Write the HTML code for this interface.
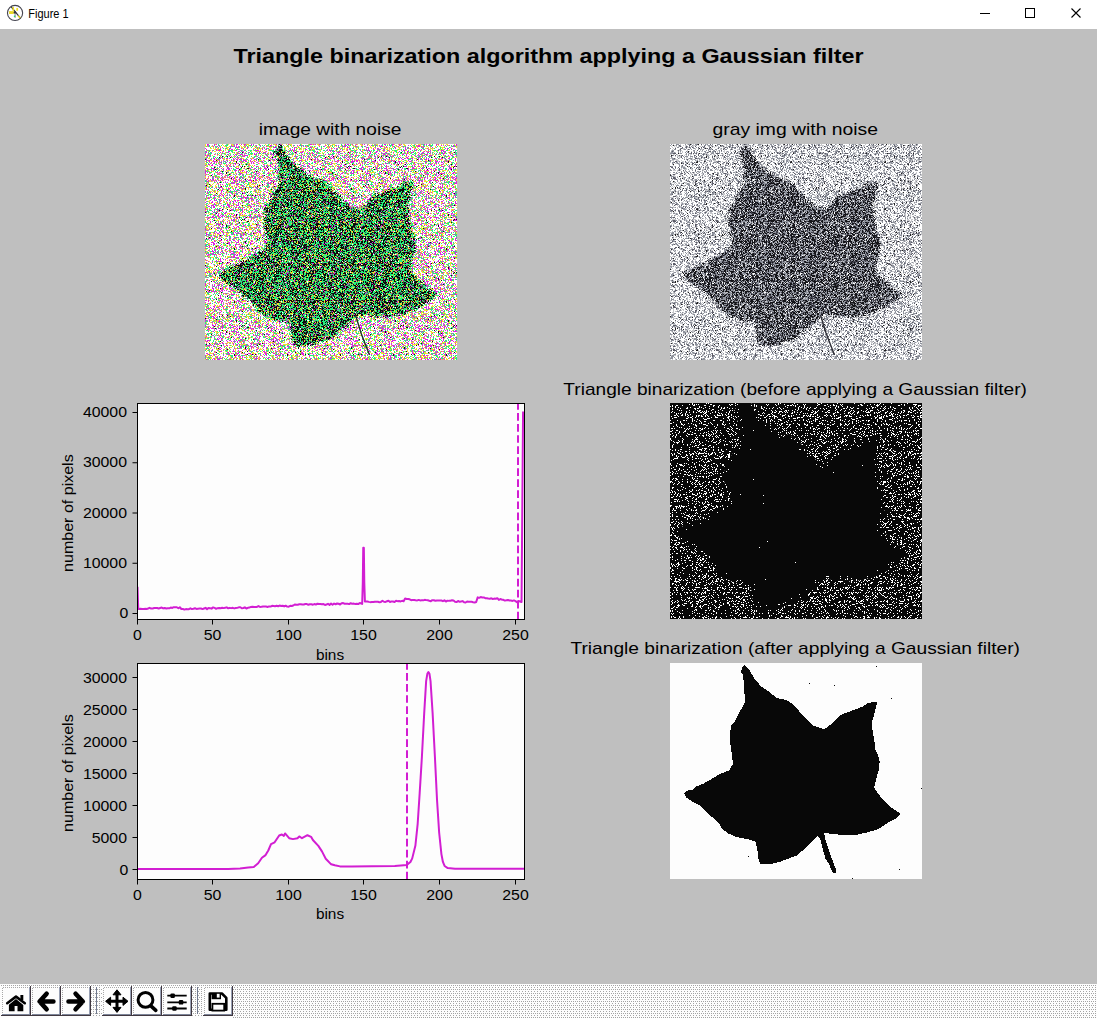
<!DOCTYPE html><html><head><meta charset="utf-8"><style>html,body{margin:0;padding:0;width:1097px;height:1018px;overflow:hidden;background:#bfbfbf}svg{position:absolute;left:0;top:0}text{font-family:"Liberation Sans",sans-serif}</style></head><body><svg width="1097" height="1018" viewBox="0 0 1097 1018"><defs><pattern id="p1b_0" patternUnits="userSpaceOnUse" width="37" height="37"><path fill="#e020e0" d="M2 0h2v1h-2zM9 0h1v1h-1zM11 0h1v1h-1zM29 0h1v1h-1zM31 0h2v1h-2zM34 0h1v1h-1zM36 0h1v1h-1zM2 1h1v1h-1zM9 1h1v1h-1zM14 1h1v1h-1zM18 1h1v1h-1zM20 1h1v1h-1zM22 1h1v1h-1zM26 1h1v1h-1zM28 1h2v1h-2zM3 2h1v1h-1zM8 2h1v1h-1zM12 2h1v1h-1zM24 2h1v1h-1zM26 2h4v1h-4zM31 2h1v1h-1zM33 2h1v1h-1zM5 3h1v1h-1zM13 3h1v1h-1zM15 3h1v1h-1zM17 3h1v1h-1zM22 3h1v1h-1zM31 3h3v1h-3zM0 4h1v1h-1zM5 4h1v1h-1zM15 4h1v1h-1zM18 4h1v1h-1zM20 4h1v1h-1zM24 4h2v1h-2zM36 4h1v1h-1zM1 5h1v1h-1zM11 5h1v1h-1zM13 5h1v1h-1zM15 5h1v1h-1zM20 5h1v1h-1zM24 5h1v1h-1zM26 5h2v1h-2zM31 5h1v1h-1zM33 5h2v1h-2zM3 6h1v1h-1zM7 6h1v1h-1zM11 6h1v1h-1zM13 6h4v1h-4zM26 6h1v1h-1zM30 6h2v1h-2zM35 6h1v1h-1zM1 7h1v1h-1zM9 7h1v1h-1zM14 7h1v1h-1zM17 7h2v1h-2zM23 7h2v1h-2zM34 7h1v1h-1zM36 7h1v1h-1zM0 8h2v1h-2zM3 8h1v1h-1zM6 8h1v1h-1zM15 8h1v1h-1zM17 8h1v1h-1zM21 8h3v1h-3zM28 8h1v1h-1zM32 8h2v1h-2zM3 9h1v1h-1zM12 9h1v1h-1zM14 9h1v1h-1zM16 9h2v1h-2zM25 9h1v1h-1zM29 9h1v1h-1zM31 9h1v1h-1zM33 9h2v1h-2zM0 10h1v1h-1zM9 10h1v1h-1zM12 10h2v1h-2zM16 10h1v1h-1zM23 10h1v1h-1zM28 10h1v1h-1zM30 10h2v1h-2zM35 10h2v1h-2zM0 11h1v1h-1zM2 11h4v1h-4zM16 11h1v1h-1zM21 11h1v1h-1zM24 11h2v1h-2zM29 11h1v1h-1zM31 11h1v1h-1zM33 11h2v1h-2zM1 12h2v1h-2zM15 12h1v1h-1zM18 12h1v1h-1zM22 12h1v1h-1zM26 12h1v1h-1zM28 12h1v1h-1zM30 12h1v1h-1zM32 12h1v1h-1zM35 12h1v1h-1zM10 13h1v1h-1zM16 13h2v1h-2zM22 13h1v1h-1zM27 13h1v1h-1zM29 13h1v1h-1zM32 13h1v1h-1zM36 13h1v1h-1zM1 14h1v1h-1zM8 14h2v1h-2zM11 14h1v1h-1zM14 14h2v1h-2zM17 14h2v1h-2zM21 14h2v1h-2zM24 14h1v1h-1zM28 14h1v1h-1zM30 14h1v1h-1zM33 14h1v1h-1zM36 14h1v1h-1zM1 15h1v1h-1zM5 15h1v1h-1zM9 15h1v1h-1zM12 15h2v1h-2zM18 15h1v1h-1zM28 15h1v1h-1zM31 15h2v1h-2zM34 15h3v1h-3zM1 16h4v1h-4zM6 16h1v1h-1zM8 16h1v1h-1zM14 16h1v1h-1zM18 16h1v1h-1zM21 16h2v1h-2zM26 16h1v1h-1zM28 16h1v1h-1zM32 16h1v1h-1zM36 16h1v1h-1zM0 17h2v1h-2zM3 17h2v1h-2zM8 17h3v1h-3zM12 17h1v1h-1zM16 17h1v1h-1zM19 17h2v1h-2zM22 17h1v1h-1zM35 17h2v1h-2zM6 18h1v1h-1zM9 18h1v1h-1zM11 18h1v1h-1zM14 18h2v1h-2zM21 18h1v1h-1zM24 18h1v1h-1zM35 18h2v1h-2zM5 19h1v1h-1zM9 19h1v1h-1zM11 19h1v1h-1zM16 19h1v1h-1zM24 19h1v1h-1zM29 19h2v1h-2zM32 19h2v1h-2zM36 19h1v1h-1zM1 20h1v1h-1zM3 20h2v1h-2zM7 20h1v1h-1zM14 20h2v1h-2zM21 20h1v1h-1zM25 20h1v1h-1zM28 20h1v1h-1zM30 20h1v1h-1zM0 21h1v1h-1zM6 21h2v1h-2zM12 21h1v1h-1zM22 21h1v1h-1zM24 21h1v1h-1zM28 21h1v1h-1zM33 21h1v1h-1zM9 22h1v1h-1zM14 22h3v1h-3zM21 22h2v1h-2zM24 22h2v1h-2zM28 22h2v1h-2zM33 22h1v1h-1zM35 22h1v1h-1zM9 23h2v1h-2zM22 23h2v1h-2zM30 23h1v1h-1zM33 23h1v1h-1zM1 24h2v1h-2zM6 24h3v1h-3zM12 24h1v1h-1zM16 24h1v1h-1zM18 24h1v1h-1zM22 24h3v1h-3zM26 24h1v1h-1zM28 24h1v1h-1zM31 24h3v1h-3zM36 24h1v1h-1zM3 25h2v1h-2zM8 25h2v1h-2zM11 25h1v1h-1zM14 25h1v1h-1zM18 25h1v1h-1zM21 25h1v1h-1zM23 25h2v1h-2zM34 25h1v1h-1zM0 26h2v1h-2zM6 26h1v1h-1zM8 26h2v1h-2zM18 26h1v1h-1zM24 26h1v1h-1zM30 26h2v1h-2zM33 26h2v1h-2zM36 26h1v1h-1zM0 27h1v1h-1zM4 27h1v1h-1zM12 27h1v1h-1zM15 27h1v1h-1zM20 27h1v1h-1zM30 27h1v1h-1zM35 27h1v1h-1zM0 28h1v1h-1zM2 28h1v1h-1zM4 28h1v1h-1zM11 28h2v1h-2zM14 28h1v1h-1zM17 28h1v1h-1zM22 28h1v1h-1zM26 28h2v1h-2zM30 28h1v1h-1zM34 28h2v1h-2zM0 29h1v1h-1zM4 29h1v1h-1zM9 29h1v1h-1zM13 29h4v1h-4zM25 29h2v1h-2zM28 29h1v1h-1zM31 29h1v1h-1zM35 29h2v1h-2zM0 30h2v1h-2zM7 30h1v1h-1zM9 30h1v1h-1zM12 30h3v1h-3zM17 30h1v1h-1zM24 30h1v1h-1zM31 30h1v1h-1zM35 30h1v1h-1zM0 31h1v1h-1zM9 31h1v1h-1zM11 31h1v1h-1zM16 31h1v1h-1zM20 31h2v1h-2zM34 31h1v1h-1zM3 32h1v1h-1zM7 32h1v1h-1zM10 32h1v1h-1zM13 32h1v1h-1zM17 32h1v1h-1zM19 32h2v1h-2zM24 32h2v1h-2zM28 32h1v1h-1zM0 33h1v1h-1zM7 33h2v1h-2zM10 33h1v1h-1zM13 33h1v1h-1zM16 33h2v1h-2zM20 33h1v1h-1zM22 33h1v1h-1zM24 33h1v1h-1zM26 33h2v1h-2zM29 33h1v1h-1zM31 33h2v1h-2zM35 33h1v1h-1zM0 34h1v1h-1zM3 34h1v1h-1zM8 34h1v1h-1zM12 34h2v1h-2zM15 34h1v1h-1zM17 34h2v1h-2zM25 34h1v1h-1zM28 34h3v1h-3zM34 34h1v1h-1zM2 35h1v1h-1zM5 35h1v1h-1zM7 35h2v1h-2zM13 35h1v1h-1zM16 35h2v1h-2zM19 35h1v1h-1zM21 35h1v1h-1zM26 35h3v1h-3zM31 35h1v1h-1zM34 35h1v1h-1zM1 36h1v1h-1zM3 36h2v1h-2zM6 36h6v1h-6zM13 36h3v1h-3zM17 36h1v1h-1zM23 36h1v1h-1zM25 36h1v1h-1zM28 36h3v1h-3zM32 36h1v1h-1zM34 36h2v1h-2z"/></pattern><pattern id="p1b_1" patternUnits="userSpaceOnUse" width="41" height="41"><path fill="#24f07c" d="M13 0h1v1h-1zM22 0h1v1h-1zM0 1h1v1h-1zM3 1h2v1h-2zM7 1h1v1h-1zM13 1h1v1h-1zM16 1h1v1h-1zM18 1h1v1h-1zM20 1h3v1h-3zM1 2h1v1h-1zM4 2h1v1h-1zM6 2h1v1h-1zM10 2h1v1h-1zM14 2h1v1h-1zM21 2h1v1h-1zM25 2h1v1h-1zM27 2h1v1h-1zM34 2h1v1h-1zM36 2h1v1h-1zM5 3h1v1h-1zM11 3h1v1h-1zM25 3h1v1h-1zM30 3h1v1h-1zM34 3h1v1h-1zM39 3h1v1h-1zM12 4h2v1h-2zM18 4h1v1h-1zM21 4h2v1h-2zM24 4h1v1h-1zM30 4h1v1h-1zM38 4h1v1h-1zM9 5h1v1h-1zM14 5h1v1h-1zM22 5h1v1h-1zM29 5h1v1h-1zM31 5h2v1h-2zM34 5h1v1h-1zM2 6h1v1h-1zM4 6h2v1h-2zM8 6h1v1h-1zM18 6h1v1h-1zM23 6h5v1h-5zM36 6h2v1h-2zM39 6h1v1h-1zM0 7h1v1h-1zM4 7h1v1h-1zM10 7h1v1h-1zM26 7h2v1h-2zM33 7h1v1h-1zM3 8h1v1h-1zM5 8h1v1h-1zM22 8h1v1h-1zM27 8h1v1h-1zM29 8h1v1h-1zM31 8h1v1h-1zM35 8h1v1h-1zM40 8h1v1h-1zM0 9h1v1h-1zM4 9h3v1h-3zM12 9h1v1h-1zM14 9h1v1h-1zM17 9h1v1h-1zM19 9h1v1h-1zM24 9h1v1h-1zM31 9h2v1h-2zM36 9h1v1h-1zM2 10h2v1h-2zM5 10h1v1h-1zM10 10h1v1h-1zM20 10h1v1h-1zM22 10h1v1h-1zM25 10h1v1h-1zM28 10h1v1h-1zM12 11h1v1h-1zM14 11h1v1h-1zM16 11h1v1h-1zM25 11h1v1h-1zM31 11h1v1h-1zM33 11h1v1h-1zM35 11h1v1h-1zM1 12h1v1h-1zM5 12h1v1h-1zM8 12h2v1h-2zM18 12h1v1h-1zM21 12h1v1h-1zM24 12h1v1h-1zM28 12h1v1h-1zM30 12h1v1h-1zM36 12h2v1h-2zM1 13h2v1h-2zM8 13h1v1h-1zM12 13h1v1h-1zM16 13h1v1h-1zM19 13h1v1h-1zM22 13h1v1h-1zM27 13h1v1h-1zM29 13h1v1h-1zM33 13h2v1h-2zM0 14h1v1h-1zM6 14h1v1h-1zM11 14h1v1h-1zM13 14h1v1h-1zM35 14h1v1h-1zM0 15h1v1h-1zM10 15h1v1h-1zM14 15h1v1h-1zM22 15h1v1h-1zM26 15h1v1h-1zM39 15h2v1h-2zM2 16h1v1h-1zM12 16h1v1h-1zM27 16h1v1h-1zM36 16h1v1h-1zM14 17h1v1h-1zM18 17h2v1h-2zM22 17h1v1h-1zM31 17h1v1h-1zM34 17h1v1h-1zM38 17h1v1h-1zM1 18h2v1h-2zM16 18h1v1h-1zM20 18h1v1h-1zM25 18h1v1h-1zM37 18h1v1h-1zM0 19h2v1h-2zM3 19h1v1h-1zM8 19h1v1h-1zM13 19h1v1h-1zM18 19h3v1h-3zM24 19h2v1h-2zM28 19h1v1h-1zM1 20h1v1h-1zM10 20h2v1h-2zM36 20h1v1h-1zM38 20h1v1h-1zM40 20h1v1h-1zM15 21h1v1h-1zM21 21h1v1h-1zM34 21h1v1h-1zM37 21h1v1h-1zM1 22h2v1h-2zM5 22h1v1h-1zM16 22h1v1h-1zM18 22h1v1h-1zM22 22h1v1h-1zM26 22h1v1h-1zM28 22h1v1h-1zM39 22h1v1h-1zM6 23h1v1h-1zM10 23h1v1h-1zM12 23h1v1h-1zM14 23h1v1h-1zM30 23h1v1h-1zM33 23h1v1h-1zM9 24h1v1h-1zM13 24h1v1h-1zM24 24h1v1h-1zM28 24h1v1h-1zM35 24h2v1h-2zM0 25h1v1h-1zM2 25h1v1h-1zM4 25h3v1h-3zM12 25h1v1h-1zM17 25h1v1h-1zM28 25h3v1h-3zM35 25h2v1h-2zM2 26h2v1h-2zM9 26h1v1h-1zM11 26h1v1h-1zM13 26h1v1h-1zM21 26h1v1h-1zM29 26h1v1h-1zM1 27h1v1h-1zM3 27h1v1h-1zM8 27h1v1h-1zM10 27h1v1h-1zM12 27h1v1h-1zM16 27h1v1h-1zM18 27h1v1h-1zM33 27h1v1h-1zM39 27h1v1h-1zM5 28h2v1h-2zM17 28h1v1h-1zM23 28h1v1h-1zM26 28h3v1h-3zM36 28h1v1h-1zM5 29h1v1h-1zM9 29h1v1h-1zM17 29h2v1h-2zM34 29h1v1h-1zM0 30h1v1h-1zM2 30h2v1h-2zM9 30h1v1h-1zM20 30h1v1h-1zM23 30h1v1h-1zM25 30h1v1h-1zM34 30h1v1h-1zM37 30h1v1h-1zM5 31h1v1h-1zM10 31h2v1h-2zM22 31h2v1h-2zM25 31h1v1h-1zM30 31h1v1h-1zM38 31h1v1h-1zM40 31h1v1h-1zM5 32h1v1h-1zM8 32h1v1h-1zM11 32h1v1h-1zM13 32h1v1h-1zM17 32h1v1h-1zM31 32h1v1h-1zM35 32h2v1h-2zM38 32h1v1h-1zM40 32h1v1h-1zM8 33h1v1h-1zM13 33h2v1h-2zM29 33h1v1h-1zM34 33h1v1h-1zM36 33h1v1h-1zM7 34h1v1h-1zM35 34h1v1h-1zM38 34h1v1h-1zM10 35h1v1h-1zM12 35h1v1h-1zM27 35h1v1h-1zM30 35h1v1h-1zM33 35h1v1h-1zM0 36h1v1h-1zM7 36h1v1h-1zM11 36h1v1h-1zM18 36h1v1h-1zM31 36h1v1h-1zM0 37h2v1h-2zM15 37h2v1h-2zM25 37h1v1h-1zM30 37h1v1h-1zM34 37h1v1h-1zM38 37h2v1h-2zM2 38h2v1h-2zM9 38h1v1h-1zM12 38h1v1h-1zM16 38h1v1h-1zM27 38h1v1h-1zM34 38h1v1h-1zM36 38h3v1h-3zM2 39h1v1h-1zM21 39h1v1h-1zM25 39h1v1h-1zM32 39h1v1h-1zM38 39h1v1h-1zM1 40h3v1h-3zM11 40h1v1h-1zM21 40h2v1h-2zM24 40h1v1h-1zM34 40h3v1h-3zM39 40h1v1h-1z"/></pattern><pattern id="p1b_2" patternUnits="userSpaceOnUse" width="43" height="43"><path fill="#f0dc30" d="M0 0h1v1h-1zM10 0h1v1h-1zM17 0h1v1h-1zM21 0h1v1h-1zM23 0h1v1h-1zM26 0h2v1h-2zM34 0h1v1h-1zM38 0h1v1h-1zM41 0h2v1h-2zM0 1h1v1h-1zM18 1h1v1h-1zM27 1h2v1h-2zM35 1h1v1h-1zM40 1h1v1h-1zM0 2h1v1h-1zM2 2h1v1h-1zM6 2h2v1h-2zM15 2h1v1h-1zM19 2h2v1h-2zM24 2h1v1h-1zM36 2h1v1h-1zM38 2h2v1h-2zM8 3h1v1h-1zM10 3h1v1h-1zM15 3h1v1h-1zM21 3h3v1h-3zM36 3h2v1h-2zM40 3h1v1h-1zM5 4h2v1h-2zM8 4h1v1h-1zM10 4h1v1h-1zM12 4h2v1h-2zM22 4h1v1h-1zM32 4h1v1h-1zM37 4h1v1h-1zM41 4h1v1h-1zM9 5h2v1h-2zM12 5h1v1h-1zM20 5h1v1h-1zM22 5h2v1h-2zM29 5h1v1h-1zM40 5h1v1h-1zM1 6h1v1h-1zM5 6h1v1h-1zM12 6h1v1h-1zM16 6h1v1h-1zM20 6h1v1h-1zM28 6h2v1h-2zM3 7h1v1h-1zM7 7h1v1h-1zM9 7h2v1h-2zM14 7h1v1h-1zM17 7h1v1h-1zM37 7h1v1h-1zM13 8h1v1h-1zM20 8h1v1h-1zM28 8h1v1h-1zM31 8h1v1h-1zM33 8h1v1h-1zM40 8h1v1h-1zM16 9h1v1h-1zM20 9h1v1h-1zM25 9h1v1h-1zM29 9h1v1h-1zM31 9h1v1h-1zM39 9h1v1h-1zM2 10h1v1h-1zM4 10h1v1h-1zM10 10h1v1h-1zM13 10h1v1h-1zM19 10h1v1h-1zM32 10h1v1h-1zM1 11h1v1h-1zM7 11h1v1h-1zM12 11h1v1h-1zM15 11h1v1h-1zM23 11h1v1h-1zM38 11h1v1h-1zM1 12h1v1h-1zM20 12h1v1h-1zM22 12h1v1h-1zM28 12h2v1h-2zM35 12h1v1h-1zM0 13h1v1h-1zM4 13h1v1h-1zM15 13h1v1h-1zM26 13h1v1h-1zM34 13h1v1h-1zM36 13h1v1h-1zM3 14h2v1h-2zM18 14h2v1h-2zM32 14h1v1h-1zM37 14h2v1h-2zM10 15h2v1h-2zM18 15h1v1h-1zM21 15h2v1h-2zM39 15h1v1h-1zM5 16h2v1h-2zM11 16h3v1h-3zM16 16h1v1h-1zM21 16h1v1h-1zM24 16h1v1h-1zM27 16h1v1h-1zM29 16h1v1h-1zM41 16h1v1h-1zM0 17h1v1h-1zM3 17h1v1h-1zM7 17h1v1h-1zM11 17h1v1h-1zM25 17h1v1h-1zM29 17h2v1h-2zM35 17h1v1h-1zM13 18h1v1h-1zM27 18h1v1h-1zM36 18h1v1h-1zM38 18h2v1h-2zM0 19h2v1h-2zM6 19h1v1h-1zM11 19h1v1h-1zM14 19h1v1h-1zM25 19h2v1h-2zM31 19h1v1h-1zM40 19h1v1h-1zM42 19h1v1h-1zM0 20h1v1h-1zM16 20h1v1h-1zM19 20h1v1h-1zM23 20h1v1h-1zM28 20h1v1h-1zM36 20h2v1h-2zM1 21h2v1h-2zM4 21h1v1h-1zM20 21h2v1h-2zM25 21h1v1h-1zM41 21h1v1h-1zM1 22h1v1h-1zM5 22h1v1h-1zM10 22h1v1h-1zM24 22h1v1h-1zM31 22h3v1h-3zM40 22h1v1h-1zM0 23h1v1h-1zM17 23h1v1h-1zM31 23h1v1h-1zM33 23h1v1h-1zM39 23h1v1h-1zM11 24h1v1h-1zM13 24h1v1h-1zM38 24h1v1h-1zM41 24h1v1h-1zM0 25h1v1h-1zM4 25h1v1h-1zM36 25h1v1h-1zM1 26h1v1h-1zM3 26h1v1h-1zM11 26h1v1h-1zM14 26h1v1h-1zM16 26h1v1h-1zM22 26h4v1h-4zM27 26h1v1h-1zM34 26h3v1h-3zM4 27h1v1h-1zM6 27h3v1h-3zM20 27h1v1h-1zM22 27h1v1h-1zM27 27h1v1h-1zM39 27h1v1h-1zM10 28h1v1h-1zM21 28h1v1h-1zM30 28h1v1h-1zM35 28h6v1h-6zM5 29h1v1h-1zM12 29h1v1h-1zM14 29h1v1h-1zM24 29h1v1h-1zM26 29h1v1h-1zM28 29h1v1h-1zM30 29h1v1h-1zM37 29h1v1h-1zM0 30h1v1h-1zM2 30h1v1h-1zM13 30h1v1h-1zM20 30h1v1h-1zM22 30h1v1h-1zM29 30h1v1h-1zM33 30h1v1h-1zM42 30h1v1h-1zM4 31h1v1h-1zM9 31h1v1h-1zM25 31h2v1h-2zM34 31h1v1h-1zM0 32h1v1h-1zM5 32h1v1h-1zM9 32h1v1h-1zM12 32h1v1h-1zM14 32h1v1h-1zM20 32h1v1h-1zM22 32h1v1h-1zM30 32h2v1h-2zM39 32h1v1h-1zM0 33h1v1h-1zM3 33h1v1h-1zM11 33h3v1h-3zM18 33h2v1h-2zM23 33h1v1h-1zM30 33h1v1h-1zM38 33h2v1h-2zM2 34h1v1h-1zM16 34h1v1h-1zM24 34h1v1h-1zM30 34h1v1h-1zM41 34h1v1h-1zM1 35h1v1h-1zM10 35h1v1h-1zM13 35h1v1h-1zM20 35h1v1h-1zM22 35h1v1h-1zM27 35h1v1h-1zM30 35h1v1h-1zM33 35h1v1h-1zM36 35h1v1h-1zM40 35h1v1h-1zM4 36h2v1h-2zM9 36h1v1h-1zM14 36h1v1h-1zM18 36h1v1h-1zM25 36h1v1h-1zM31 36h1v1h-1zM36 36h1v1h-1zM4 37h4v1h-4zM16 37h1v1h-1zM20 37h1v1h-1zM27 37h1v1h-1zM37 37h2v1h-2zM2 38h1v1h-1zM10 38h1v1h-1zM30 38h2v1h-2zM1 39h2v1h-2zM8 39h1v1h-1zM13 39h1v1h-1zM23 39h2v1h-2zM40 39h2v1h-2zM1 40h1v1h-1zM3 40h3v1h-3zM7 40h1v1h-1zM11 40h1v1h-1zM23 40h1v1h-1zM25 40h1v1h-1zM34 40h1v1h-1zM1 41h2v1h-2zM6 41h1v1h-1zM10 41h1v1h-1zM15 41h1v1h-1zM18 41h1v1h-1zM25 41h1v1h-1zM29 41h1v1h-1zM31 41h1v1h-1zM35 41h1v1h-1zM41 41h2v1h-2zM2 42h2v1h-2zM5 42h2v1h-2zM10 42h2v1h-2zM24 42h1v1h-1zM26 42h1v1h-1zM29 42h1v1h-1zM31 42h1v1h-1zM34 42h1v1h-1zM37 42h1v1h-1z"/></pattern><pattern id="p1b_3" patternUnits="userSpaceOnUse" width="47" height="47"><path fill="#a0a0a8" d="M21 0h1v1h-1zM28 0h2v1h-2zM3 1h1v1h-1zM7 1h1v1h-1zM31 1h1v1h-1zM11 2h1v1h-1zM10 3h1v1h-1zM43 3h1v1h-1zM38 4h1v1h-1zM13 5h1v1h-1zM37 7h1v1h-1zM10 9h1v1h-1zM18 9h1v1h-1zM37 9h1v1h-1zM39 9h1v1h-1zM43 9h1v1h-1zM39 10h1v1h-1zM4 11h1v1h-1zM24 11h2v1h-2zM4 12h1v1h-1zM37 12h1v1h-1zM1 13h1v1h-1zM31 13h1v1h-1zM45 14h1v1h-1zM6 15h1v1h-1zM19 15h1v1h-1zM29 15h1v1h-1zM41 15h1v1h-1zM21 16h1v1h-1zM35 16h1v1h-1zM18 17h1v1h-1zM25 17h1v1h-1zM28 17h1v1h-1zM4 18h1v1h-1zM18 18h1v1h-1zM24 19h1v1h-1zM27 19h1v1h-1zM32 19h1v1h-1zM42 19h1v1h-1zM44 23h1v1h-1zM2 25h1v1h-1zM14 25h1v1h-1zM40 25h1v1h-1zM8 26h1v1h-1zM21 26h1v1h-1zM25 26h1v1h-1zM45 26h1v1h-1zM2 27h1v1h-1zM23 27h1v1h-1zM33 28h1v1h-1zM43 28h1v1h-1zM4 29h1v1h-1zM17 29h1v1h-1zM31 29h1v1h-1zM45 29h1v1h-1zM28 30h2v1h-2zM33 30h1v1h-1zM22 32h1v1h-1zM32 32h1v1h-1zM12 33h1v1h-1zM38 33h1v1h-1zM44 33h1v1h-1zM13 34h1v1h-1zM17 34h1v1h-1zM25 34h1v1h-1zM40 34h1v1h-1zM23 35h1v1h-1zM36 35h1v1h-1zM39 35h1v1h-1zM7 36h1v1h-1zM11 36h1v1h-1zM6 37h1v1h-1zM20 37h1v1h-1zM37 37h1v1h-1zM1 38h1v1h-1zM15 38h1v1h-1zM37 38h1v1h-1zM44 38h1v1h-1zM0 39h2v1h-2zM3 39h1v1h-1zM29 39h1v1h-1zM32 41h1v1h-1zM38 41h1v1h-1zM37 42h1v1h-1zM39 42h1v1h-1zM46 43h1v1h-1zM9 44h1v1h-1zM21 44h1v1h-1zM37 44h1v1h-1zM3 45h1v1h-1zM7 46h1v1h-1z"/></pattern><pattern id="p1b_4" patternUnits="userSpaceOnUse" width="53" height="53"><path fill="#101010" d="M37 8h1v1h-1zM17 12h1v1h-1zM22 12h1v1h-1zM14 13h1v1h-1zM25 13h1v1h-1zM0 15h1v1h-1zM11 16h1v1h-1zM31 17h1v1h-1zM31 18h1v1h-1zM34 20h1v1h-1zM41 20h1v1h-1zM37 22h1v1h-1zM39 22h1v1h-1zM9 23h1v1h-1zM36 23h1v1h-1zM42 24h2v1h-2zM10 25h1v1h-1zM34 25h1v1h-1zM17 27h1v1h-1zM51 27h1v1h-1zM21 28h1v1h-1zM21 29h1v1h-1zM24 30h1v1h-1zM6 31h1v1h-1zM26 34h1v1h-1zM40 35h1v1h-1zM48 36h1v1h-1zM15 38h1v1h-1zM4 40h1v1h-1zM1 41h1v1h-1zM16 42h1v1h-1zM52 42h1v1h-1zM40 44h1v1h-1zM13 45h1v1h-1zM40 45h1v1h-1zM22 46h1v1h-1zM42 48h1v1h-1zM11 49h1v1h-1zM37 49h1v1h-1zM29 51h1v1h-1zM42 51h1v1h-1zM47 51h1v1h-1zM50 51h1v1h-1zM29 52h1v1h-1z"/></pattern><pattern id="p1l_0" patternUnits="userSpaceOnUse" width="37" height="37"><path fill="#24f07c" d="M2 0h2v1h-2zM7 0h6v1h-6zM15 0h3v1h-3zM20 0h2v1h-2zM25 0h1v1h-1zM27 0h1v1h-1zM29 0h2v1h-2zM36 0h1v1h-1zM0 1h1v1h-1zM4 1h1v1h-1zM7 1h2v1h-2zM10 1h1v1h-1zM13 1h2v1h-2zM19 1h2v1h-2zM22 1h2v1h-2zM28 1h2v1h-2zM31 1h1v1h-1zM34 1h3v1h-3zM0 2h2v1h-2zM3 2h4v1h-4zM8 2h2v1h-2zM12 2h1v1h-1zM15 2h1v1h-1zM18 2h1v1h-1zM21 2h1v1h-1zM25 2h2v1h-2zM29 2h1v1h-1zM31 2h3v1h-3zM3 3h1v1h-1zM7 3h1v1h-1zM9 3h4v1h-4zM14 3h1v1h-1zM18 3h5v1h-5zM24 3h1v1h-1zM29 3h2v1h-2zM34 3h2v1h-2zM0 4h1v1h-1zM2 4h1v1h-1zM4 4h2v1h-2zM7 4h1v1h-1zM9 4h4v1h-4zM14 4h1v1h-1zM16 4h2v1h-2zM19 4h4v1h-4zM24 4h1v1h-1zM28 4h2v1h-2zM32 4h3v1h-3zM3 5h1v1h-1zM5 5h1v1h-1zM8 5h4v1h-4zM13 5h2v1h-2zM17 5h1v1h-1zM22 5h4v1h-4zM28 5h1v1h-1zM30 5h1v1h-1zM32 5h3v1h-3zM36 5h1v1h-1zM5 6h2v1h-2zM8 6h5v1h-5zM14 6h2v1h-2zM17 6h2v1h-2zM21 6h1v1h-1zM24 6h1v1h-1zM26 6h1v1h-1zM30 6h1v1h-1zM32 6h4v1h-4zM2 7h10v1h-10zM14 7h3v1h-3zM19 7h4v1h-4zM28 7h1v1h-1zM35 7h2v1h-2zM2 8h1v1h-1zM6 8h2v1h-2zM16 8h1v1h-1zM22 8h1v1h-1zM27 8h1v1h-1zM30 8h1v1h-1zM32 8h3v1h-3zM3 9h1v1h-1zM14 9h6v1h-6zM21 9h1v1h-1zM23 9h1v1h-1zM25 9h6v1h-6zM33 9h1v1h-1zM1 10h1v1h-1zM3 10h1v1h-1zM5 10h2v1h-2zM11 10h1v1h-1zM14 10h1v1h-1zM16 10h1v1h-1zM19 10h1v1h-1zM21 10h1v1h-1zM27 10h1v1h-1zM30 10h1v1h-1zM0 11h2v1h-2zM7 11h5v1h-5zM13 11h3v1h-3zM17 11h1v1h-1zM21 11h1v1h-1zM23 11h1v1h-1zM27 11h2v1h-2zM31 11h2v1h-2zM0 12h1v1h-1zM2 12h3v1h-3zM6 12h1v1h-1zM8 12h3v1h-3zM13 12h1v1h-1zM19 12h1v1h-1zM21 12h3v1h-3zM25 12h1v1h-1zM28 12h1v1h-1zM32 12h1v1h-1zM34 12h2v1h-2zM1 13h1v1h-1zM3 13h4v1h-4zM8 13h3v1h-3zM12 13h3v1h-3zM18 13h1v1h-1zM20 13h1v1h-1zM22 13h3v1h-3zM27 13h2v1h-2zM30 13h1v1h-1zM33 13h1v1h-1zM36 13h1v1h-1zM3 14h1v1h-1zM8 14h1v1h-1zM10 14h6v1h-6zM17 14h2v1h-2zM20 14h1v1h-1zM23 14h1v1h-1zM26 14h2v1h-2zM31 14h3v1h-3zM35 14h1v1h-1zM0 15h1v1h-1zM2 15h4v1h-4zM7 15h1v1h-1zM11 15h3v1h-3zM16 15h1v1h-1zM19 15h2v1h-2zM22 15h1v1h-1zM25 15h3v1h-3zM30 15h2v1h-2zM35 15h1v1h-1zM2 16h1v1h-1zM5 16h1v1h-1zM8 16h2v1h-2zM11 16h1v1h-1zM14 16h3v1h-3zM21 16h3v1h-3zM27 16h4v1h-4zM32 16h1v1h-1zM0 17h5v1h-5zM7 17h10v1h-10zM18 17h2v1h-2zM21 17h2v1h-2zM25 17h2v1h-2zM29 17h1v1h-1zM31 17h1v1h-1zM33 17h1v1h-1zM35 17h1v1h-1zM0 18h1v1h-1zM4 18h3v1h-3zM11 18h1v1h-1zM13 18h1v1h-1zM21 18h3v1h-3zM25 18h2v1h-2zM32 18h1v1h-1zM0 19h4v1h-4zM5 19h2v1h-2zM10 19h1v1h-1zM13 19h2v1h-2zM16 19h1v1h-1zM20 19h1v1h-1zM22 19h2v1h-2zM25 19h2v1h-2zM28 19h1v1h-1zM30 19h2v1h-2zM34 19h3v1h-3zM0 20h2v1h-2zM3 20h3v1h-3zM7 20h1v1h-1zM10 20h1v1h-1zM13 20h1v1h-1zM17 20h1v1h-1zM19 20h2v1h-2zM24 20h2v1h-2zM30 20h2v1h-2zM33 20h1v1h-1zM0 21h1v1h-1zM3 21h2v1h-2zM9 21h2v1h-2zM13 21h2v1h-2zM16 21h3v1h-3zM21 21h1v1h-1zM26 21h5v1h-5zM0 22h2v1h-2zM3 22h1v1h-1zM5 22h2v1h-2zM10 22h2v1h-2zM13 22h1v1h-1zM18 22h3v1h-3zM22 22h1v1h-1zM24 22h3v1h-3zM29 22h1v1h-1zM32 22h1v1h-1zM34 22h3v1h-3zM2 23h1v1h-1zM7 23h1v1h-1zM10 23h1v1h-1zM13 23h1v1h-1zM15 23h2v1h-2zM22 23h1v1h-1zM24 23h6v1h-6zM31 23h1v1h-1zM35 23h1v1h-1zM0 24h3v1h-3zM5 24h3v1h-3zM10 24h1v1h-1zM12 24h2v1h-2zM15 24h1v1h-1zM21 24h3v1h-3zM25 24h2v1h-2zM28 24h2v1h-2zM31 24h1v1h-1zM35 24h1v1h-1zM0 25h4v1h-4zM6 25h1v1h-1zM9 25h5v1h-5zM17 25h2v1h-2zM22 25h1v1h-1zM25 25h4v1h-4zM33 25h3v1h-3zM0 26h1v1h-1zM3 26h1v1h-1zM6 26h3v1h-3zM11 26h1v1h-1zM13 26h3v1h-3zM18 26h2v1h-2zM21 26h1v1h-1zM24 26h1v1h-1zM28 26h2v1h-2zM31 26h1v1h-1zM33 26h4v1h-4zM1 27h7v1h-7zM9 27h1v1h-1zM11 27h1v1h-1zM16 27h2v1h-2zM21 27h1v1h-1zM23 27h1v1h-1zM27 27h3v1h-3zM36 27h1v1h-1zM0 28h3v1h-3zM4 28h1v1h-1zM7 28h1v1h-1zM9 28h4v1h-4zM15 28h1v1h-1zM17 28h3v1h-3zM23 28h2v1h-2zM26 28h1v1h-1zM30 28h1v1h-1zM33 28h2v1h-2zM36 28h1v1h-1zM1 29h2v1h-2zM4 29h1v1h-1zM6 29h4v1h-4zM11 29h1v1h-1zM16 29h2v1h-2zM20 29h1v1h-1zM22 29h2v1h-2zM28 29h1v1h-1zM31 29h2v1h-2zM35 29h2v1h-2zM3 30h1v1h-1zM5 30h1v1h-1zM7 30h2v1h-2zM10 30h1v1h-1zM12 30h2v1h-2zM16 30h2v1h-2zM19 30h1v1h-1zM21 30h2v1h-2zM28 30h1v1h-1zM30 30h2v1h-2zM33 30h2v1h-2zM36 30h1v1h-1zM0 31h2v1h-2zM4 31h1v1h-1zM7 31h6v1h-6zM14 31h4v1h-4zM19 31h1v1h-1zM21 31h3v1h-3zM25 31h2v1h-2zM32 31h2v1h-2zM35 31h2v1h-2zM0 32h2v1h-2zM3 32h3v1h-3zM7 32h2v1h-2zM10 32h1v1h-1zM13 32h1v1h-1zM18 32h2v1h-2zM22 32h2v1h-2zM27 32h3v1h-3zM33 32h3v1h-3zM0 33h1v1h-1zM4 33h4v1h-4zM9 33h1v1h-1zM11 33h1v1h-1zM13 33h1v1h-1zM15 33h2v1h-2zM18 33h2v1h-2zM24 33h2v1h-2zM29 33h1v1h-1zM31 33h3v1h-3zM35 33h2v1h-2zM1 34h2v1h-2zM4 34h1v1h-1zM8 34h1v1h-1zM11 34h1v1h-1zM19 34h1v1h-1zM22 34h2v1h-2zM25 34h1v1h-1zM27 34h2v1h-2zM30 34h2v1h-2zM34 34h1v1h-1zM36 34h1v1h-1zM1 35h1v1h-1zM3 35h1v1h-1zM5 35h2v1h-2zM10 35h1v1h-1zM12 35h1v1h-1zM15 35h2v1h-2zM22 35h5v1h-5zM29 35h7v1h-7zM0 36h1v1h-1zM4 36h3v1h-3zM8 36h3v1h-3zM13 36h1v1h-1zM15 36h1v1h-1zM17 36h1v1h-1zM20 36h2v1h-2zM24 36h1v1h-1zM27 36h3v1h-3zM32 36h2v1h-2zM36 36h1v1h-1z"/></pattern><pattern id="p1l_1" patternUnits="userSpaceOnUse" width="41" height="41"><path fill="#f0dc30" d="M13 0h1v1h-1zM16 0h1v1h-1zM21 0h1v1h-1zM29 0h1v1h-1zM31 0h1v1h-1zM5 1h1v1h-1zM12 1h1v1h-1zM14 1h1v1h-1zM22 1h1v1h-1zM27 1h1v1h-1zM31 1h1v1h-1zM33 1h1v1h-1zM37 1h1v1h-1zM1 2h1v1h-1zM6 2h1v1h-1zM17 2h1v1h-1zM25 2h1v1h-1zM29 2h1v1h-1zM37 2h2v1h-2zM1 3h1v1h-1zM4 3h1v1h-1zM15 3h1v1h-1zM21 3h2v1h-2zM25 3h1v1h-1zM27 3h1v1h-1zM40 3h1v1h-1zM5 4h1v1h-1zM18 4h1v1h-1zM22 4h1v1h-1zM27 4h1v1h-1zM40 4h1v1h-1zM3 5h3v1h-3zM15 5h1v1h-1zM18 5h1v1h-1zM20 5h1v1h-1zM23 5h2v1h-2zM27 5h1v1h-1zM29 5h1v1h-1zM39 5h1v1h-1zM0 6h2v1h-2zM4 6h1v1h-1zM9 6h1v1h-1zM11 6h1v1h-1zM24 6h1v1h-1zM28 6h1v1h-1zM37 6h1v1h-1zM13 7h1v1h-1zM15 7h1v1h-1zM35 7h1v1h-1zM9 8h2v1h-2zM20 8h1v1h-1zM23 8h1v1h-1zM25 8h1v1h-1zM33 8h1v1h-1zM35 8h1v1h-1zM1 9h1v1h-1zM4 9h1v1h-1zM14 9h1v1h-1zM20 9h1v1h-1zM36 9h1v1h-1zM39 9h1v1h-1zM7 10h1v1h-1zM11 10h1v1h-1zM15 10h1v1h-1zM26 10h1v1h-1zM1 11h1v1h-1zM4 11h2v1h-2zM18 11h1v1h-1zM26 11h2v1h-2zM29 11h1v1h-1zM38 11h1v1h-1zM2 12h1v1h-1zM32 12h1v1h-1zM0 13h1v1h-1zM2 13h1v1h-1zM6 13h2v1h-2zM9 13h1v1h-1zM12 13h1v1h-1zM21 13h1v1h-1zM26 13h1v1h-1zM32 13h1v1h-1zM3 14h1v1h-1zM11 14h1v1h-1zM19 14h1v1h-1zM21 14h3v1h-3zM28 14h1v1h-1zM30 14h1v1h-1zM33 14h2v1h-2zM7 15h1v1h-1zM10 15h1v1h-1zM18 15h1v1h-1zM20 15h1v1h-1zM25 15h1v1h-1zM40 15h1v1h-1zM8 16h1v1h-1zM10 16h1v1h-1zM20 16h1v1h-1zM9 17h2v1h-2zM16 17h1v1h-1zM22 17h1v1h-1zM24 17h1v1h-1zM6 18h1v1h-1zM20 18h1v1h-1zM28 18h1v1h-1zM37 18h1v1h-1zM33 19h1v1h-1zM38 19h1v1h-1zM6 20h2v1h-2zM24 20h2v1h-2zM8 21h1v1h-1zM21 21h1v1h-1zM23 21h1v1h-1zM35 21h1v1h-1zM39 21h1v1h-1zM3 22h1v1h-1zM11 22h2v1h-2zM16 22h1v1h-1zM21 22h2v1h-2zM26 22h2v1h-2zM29 22h1v1h-1zM37 22h1v1h-1zM39 22h2v1h-2zM0 23h1v1h-1zM10 23h1v1h-1zM13 23h1v1h-1zM15 23h1v1h-1zM32 23h2v1h-2zM40 23h1v1h-1zM6 24h1v1h-1zM13 24h1v1h-1zM27 24h1v1h-1zM37 24h1v1h-1zM22 25h1v1h-1zM27 25h1v1h-1zM33 25h1v1h-1zM35 25h1v1h-1zM0 26h1v1h-1zM17 26h1v1h-1zM22 26h1v1h-1zM1 27h1v1h-1zM19 27h2v1h-2zM28 27h1v1h-1zM0 28h1v1h-1zM9 28h1v1h-1zM12 28h1v1h-1zM14 28h1v1h-1zM20 28h2v1h-2zM25 28h1v1h-1zM27 28h1v1h-1zM30 28h1v1h-1zM36 28h1v1h-1zM39 28h1v1h-1zM17 29h1v1h-1zM24 29h1v1h-1zM27 29h2v1h-2zM35 29h1v1h-1zM5 30h1v1h-1zM7 30h1v1h-1zM15 30h1v1h-1zM19 30h1v1h-1zM31 30h1v1h-1zM33 30h1v1h-1zM38 30h1v1h-1zM8 31h1v1h-1zM24 31h1v1h-1zM27 31h1v1h-1zM34 31h1v1h-1zM4 32h1v1h-1zM8 32h1v1h-1zM17 32h2v1h-2zM22 32h1v1h-1zM24 32h1v1h-1zM29 32h2v1h-2zM39 32h2v1h-2zM5 33h1v1h-1zM14 33h1v1h-1zM17 33h1v1h-1zM37 33h1v1h-1zM1 34h1v1h-1zM3 34h1v1h-1zM9 34h1v1h-1zM29 34h1v1h-1zM33 34h2v1h-2zM37 34h1v1h-1zM40 34h1v1h-1zM4 35h1v1h-1zM6 35h1v1h-1zM29 35h1v1h-1zM35 35h1v1h-1zM37 35h1v1h-1zM39 35h1v1h-1zM12 36h1v1h-1zM15 36h1v1h-1zM19 36h1v1h-1zM31 36h2v1h-2zM34 36h1v1h-1zM8 37h2v1h-2zM15 37h3v1h-3zM20 37h1v1h-1zM26 37h1v1h-1zM28 37h2v1h-2zM31 37h2v1h-2zM40 37h1v1h-1zM4 38h1v1h-1zM18 38h1v1h-1zM23 38h1v1h-1zM33 38h2v1h-2zM0 39h1v1h-1zM9 39h2v1h-2zM20 39h1v1h-1zM24 39h1v1h-1zM38 39h1v1h-1zM10 40h1v1h-1zM15 40h1v1h-1zM19 40h1v1h-1zM21 40h1v1h-1zM31 40h2v1h-2zM39 40h1v1h-1z"/></pattern><pattern id="p1l_2" patternUnits="userSpaceOnUse" width="43" height="43"><path fill="#504050" d="M20 0h1v1h-1zM24 0h1v1h-1zM38 0h1v1h-1zM40 0h3v1h-3zM1 1h3v1h-3zM40 1h1v1h-1zM4 2h1v1h-1zM6 2h1v1h-1zM8 2h1v1h-1zM12 2h1v1h-1zM31 2h1v1h-1zM39 2h1v1h-1zM21 3h1v1h-1zM41 3h1v1h-1zM2 4h1v1h-1zM5 4h1v1h-1zM12 4h1v1h-1zM37 4h1v1h-1zM39 4h1v1h-1zM42 4h1v1h-1zM6 5h1v1h-1zM8 5h1v1h-1zM20 5h2v1h-2zM24 5h1v1h-1zM27 5h1v1h-1zM39 5h2v1h-2zM7 6h1v1h-1zM15 6h1v1h-1zM30 6h1v1h-1zM38 6h1v1h-1zM3 7h2v1h-2zM13 7h2v1h-2zM24 7h2v1h-2zM27 7h1v1h-1zM36 7h1v1h-1zM41 7h1v1h-1zM7 8h1v1h-1zM23 8h1v1h-1zM26 8h1v1h-1zM37 8h1v1h-1zM0 9h1v1h-1zM26 9h1v1h-1zM32 9h1v1h-1zM35 9h1v1h-1zM1 10h1v1h-1zM9 10h1v1h-1zM13 10h1v1h-1zM18 10h1v1h-1zM22 10h1v1h-1zM26 10h1v1h-1zM28 10h1v1h-1zM34 10h1v1h-1zM37 10h1v1h-1zM40 10h2v1h-2zM0 11h1v1h-1zM8 11h1v1h-1zM15 11h1v1h-1zM39 11h1v1h-1zM10 12h2v1h-2zM14 12h2v1h-2zM19 12h1v1h-1zM35 12h1v1h-1zM1 13h2v1h-2zM28 13h1v1h-1zM40 13h3v1h-3zM2 14h1v1h-1zM9 14h2v1h-2zM23 14h1v1h-1zM26 14h1v1h-1zM30 14h1v1h-1zM32 14h2v1h-2zM35 14h1v1h-1zM3 15h1v1h-1zM15 15h1v1h-1zM23 15h1v1h-1zM27 15h1v1h-1zM34 15h1v1h-1zM38 15h1v1h-1zM0 16h1v1h-1zM12 16h1v1h-1zM14 16h1v1h-1zM18 16h1v1h-1zM23 16h1v1h-1zM17 17h2v1h-2zM21 17h1v1h-1zM24 17h1v1h-1zM30 17h1v1h-1zM35 17h1v1h-1zM1 18h1v1h-1zM10 18h1v1h-1zM12 18h1v1h-1zM14 18h1v1h-1zM17 18h1v1h-1zM29 18h1v1h-1zM33 18h1v1h-1zM36 18h1v1h-1zM10 19h1v1h-1zM16 19h1v1h-1zM22 19h2v1h-2zM25 19h1v1h-1zM31 19h3v1h-3zM1 20h1v1h-1zM15 20h1v1h-1zM19 20h1v1h-1zM21 20h1v1h-1zM23 20h2v1h-2zM34 20h1v1h-1zM7 21h2v1h-2zM17 21h1v1h-1zM30 21h1v1h-1zM32 21h2v1h-2zM41 21h1v1h-1zM6 22h1v1h-1zM17 22h1v1h-1zM20 22h1v1h-1zM32 22h1v1h-1zM36 22h1v1h-1zM40 22h2v1h-2zM4 23h2v1h-2zM14 23h1v1h-1zM35 23h1v1h-1zM39 23h1v1h-1zM42 23h1v1h-1zM11 24h1v1h-1zM14 24h1v1h-1zM39 24h1v1h-1zM41 24h1v1h-1zM2 25h1v1h-1zM5 25h1v1h-1zM10 25h1v1h-1zM17 25h3v1h-3zM6 26h1v1h-1zM12 26h1v1h-1zM20 26h1v1h-1zM3 27h2v1h-2zM19 27h1v1h-1zM21 27h1v1h-1zM24 27h1v1h-1zM27 27h1v1h-1zM29 27h1v1h-1zM39 27h1v1h-1zM41 27h1v1h-1zM2 28h1v1h-1zM4 28h1v1h-1zM6 28h1v1h-1zM11 28h1v1h-1zM20 28h1v1h-1zM1 29h1v1h-1zM4 29h1v1h-1zM16 29h1v1h-1zM18 29h1v1h-1zM26 29h1v1h-1zM28 29h1v1h-1zM32 29h1v1h-1zM38 29h1v1h-1zM41 29h1v1h-1zM13 30h1v1h-1zM28 30h1v1h-1zM35 30h1v1h-1zM0 31h1v1h-1zM10 31h1v1h-1zM12 31h1v1h-1zM17 31h2v1h-2zM32 31h2v1h-2zM35 31h1v1h-1zM6 32h1v1h-1zM14 32h1v1h-1zM18 32h1v1h-1zM40 32h1v1h-1zM3 33h1v1h-1zM7 33h1v1h-1zM9 33h3v1h-3zM25 33h3v1h-3zM29 33h1v1h-1zM31 33h2v1h-2zM35 33h1v1h-1zM42 33h1v1h-1zM15 34h2v1h-2zM25 34h1v1h-1zM36 34h2v1h-2zM1 35h1v1h-1zM6 35h1v1h-1zM21 35h1v1h-1zM24 35h3v1h-3zM30 35h1v1h-1zM1 36h2v1h-2zM6 36h1v1h-1zM11 36h1v1h-1zM22 36h2v1h-2zM30 36h1v1h-1zM33 36h2v1h-2zM6 37h1v1h-1zM13 37h2v1h-2zM31 37h1v1h-1zM35 37h1v1h-1zM4 38h1v1h-1zM6 38h1v1h-1zM14 38h1v1h-1zM21 38h1v1h-1zM29 38h1v1h-1zM40 38h1v1h-1zM6 39h1v1h-1zM22 39h1v1h-1zM28 39h1v1h-1zM37 39h1v1h-1zM40 39h1v1h-1zM7 40h1v1h-1zM19 40h1v1h-1zM21 40h1v1h-1zM23 40h1v1h-1zM27 40h1v1h-1zM39 40h1v1h-1zM41 40h1v1h-1zM4 41h1v1h-1zM7 41h1v1h-1zM35 41h1v1h-1zM11 42h1v1h-1zM15 42h1v1h-1zM19 42h1v1h-1zM21 42h1v1h-1zM25 42h1v1h-1zM32 42h1v1h-1zM41 42h1v1h-1z"/></pattern><pattern id="p1l_3" patternUnits="userSpaceOnUse" width="47" height="47"><path fill="#e020e0" d="M17 0h1v1h-1zM28 0h1v1h-1zM11 1h1v1h-1zM18 1h1v1h-1zM33 1h1v1h-1zM46 1h1v1h-1zM14 2h1v1h-1zM20 2h1v1h-1zM46 2h1v1h-1zM34 3h1v1h-1zM40 3h1v1h-1zM26 4h1v1h-1zM28 4h1v1h-1zM24 5h1v1h-1zM25 6h1v1h-1zM15 7h1v1h-1zM20 7h1v1h-1zM37 7h1v1h-1zM19 8h1v1h-1zM45 8h1v1h-1zM4 10h1v1h-1zM9 10h1v1h-1zM1 11h1v1h-1zM24 11h1v1h-1zM28 11h1v1h-1zM30 12h1v1h-1zM11 13h1v1h-1zM41 13h1v1h-1zM13 15h1v1h-1zM27 15h1v1h-1zM33 15h1v1h-1zM4 16h1v1h-1zM43 16h1v1h-1zM4 17h1v1h-1zM19 17h1v1h-1zM5 19h1v1h-1zM38 19h1v1h-1zM41 19h1v1h-1zM12 20h1v1h-1zM16 20h1v1h-1zM24 20h1v1h-1zM10 21h1v1h-1zM18 21h1v1h-1zM34 21h1v1h-1zM45 21h1v1h-1zM21 22h1v1h-1zM28 23h1v1h-1zM38 24h1v1h-1zM40 24h1v1h-1zM13 25h2v1h-2zM19 25h1v1h-1zM33 26h1v1h-1zM45 26h1v1h-1zM1 28h1v1h-1zM5 28h1v1h-1zM22 28h1v1h-1zM4 29h1v1h-1zM8 29h1v1h-1zM21 29h1v1h-1zM37 29h1v1h-1zM37 30h1v1h-1zM42 30h1v1h-1zM45 30h1v1h-1zM14 31h1v1h-1zM16 31h1v1h-1zM22 31h1v1h-1zM32 31h1v1h-1zM2 32h1v1h-1zM4 32h1v1h-1zM36 32h1v1h-1zM29 34h1v1h-1zM31 34h1v1h-1zM35 34h1v1h-1zM15 35h1v1h-1zM35 35h1v1h-1zM29 36h1v1h-1zM32 36h1v1h-1zM34 36h1v1h-1zM15 38h1v1h-1zM33 39h1v1h-1zM46 40h1v1h-1zM14 41h1v1h-1zM38 41h1v1h-1zM9 42h1v1h-1zM29 42h1v1h-1zM42 42h1v1h-1zM42 43h1v1h-1zM14 44h1v1h-1zM34 44h1v1h-1zM2 45h1v1h-1zM26 45h1v1h-1zM1 46h1v1h-1z"/></pattern><pattern id="p1l_4" patternUnits="userSpaceOnUse" width="53" height="53"><path fill="#ffffff" d="M4 0h1v1h-1zM8 1h1v1h-1zM27 2h1v1h-1zM9 4h1v1h-1zM29 4h1v1h-1zM31 4h1v1h-1zM52 4h1v1h-1zM45 5h1v1h-1zM1 6h1v1h-1zM40 7h1v1h-1zM8 9h1v1h-1zM24 9h1v1h-1zM44 9h1v1h-1zM17 10h1v1h-1zM27 10h1v1h-1zM24 11h1v1h-1zM31 11h1v1h-1zM34 11h1v1h-1zM10 12h1v1h-1zM47 12h1v1h-1zM34 13h1v1h-1zM29 14h1v1h-1zM50 14h1v1h-1zM7 16h1v1h-1zM9 16h1v1h-1zM19 17h1v1h-1zM49 17h2v1h-2zM1 18h1v1h-1zM17 20h1v1h-1zM39 22h1v1h-1zM17 23h1v1h-1zM35 23h1v1h-1zM11 25h1v1h-1zM42 25h1v1h-1zM26 26h1v1h-1zM15 27h1v1h-1zM9 29h1v1h-1zM26 29h1v1h-1zM33 31h1v1h-1zM49 31h1v1h-1zM27 32h1v1h-1zM49 32h1v1h-1zM14 34h1v1h-1zM30 34h1v1h-1zM23 37h1v1h-1zM21 38h1v1h-1zM0 40h1v1h-1zM10 40h1v1h-1zM40 40h1v1h-1zM27 41h1v1h-1zM48 42h1v1h-1zM52 42h1v1h-1zM5 44h1v1h-1zM18 44h1v1h-1zM34 46h1v1h-1zM22 47h1v1h-1zM41 47h1v1h-1zM40 49h1v1h-1zM44 49h1v1h-1zM23 51h1v1h-1z"/></pattern><pattern id="p2b_0" patternUnits="userSpaceOnUse" width="37" height="37"><path fill="#c6c7cb" d="M3 0h1v1h-1zM10 0h1v1h-1zM17 0h2v1h-2zM23 0h1v1h-1zM33 0h1v1h-1zM35 0h2v1h-2zM0 1h1v1h-1zM2 1h4v1h-4zM8 1h2v1h-2zM13 1h1v1h-1zM15 1h2v1h-2zM19 1h2v1h-2zM22 1h4v1h-4zM28 1h1v1h-1zM31 1h1v1h-1zM35 1h1v1h-1zM1 2h1v1h-1zM4 2h1v1h-1zM6 2h1v1h-1zM8 2h2v1h-2zM11 2h1v1h-1zM15 2h3v1h-3zM19 2h1v1h-1zM22 2h2v1h-2zM29 2h2v1h-2zM33 2h2v1h-2zM2 3h1v1h-1zM5 3h1v1h-1zM7 3h1v1h-1zM16 3h4v1h-4zM23 3h1v1h-1zM26 3h1v1h-1zM33 3h1v1h-1zM35 3h1v1h-1zM3 4h1v1h-1zM10 4h1v1h-1zM13 4h2v1h-2zM20 4h1v1h-1zM24 4h2v1h-2zM34 4h1v1h-1zM2 5h1v1h-1zM4 5h1v1h-1zM9 5h1v1h-1zM13 5h2v1h-2zM17 5h1v1h-1zM19 5h1v1h-1zM25 5h1v1h-1zM30 5h3v1h-3zM1 6h1v1h-1zM3 6h1v1h-1zM7 6h1v1h-1zM9 6h1v1h-1zM11 6h1v1h-1zM17 6h1v1h-1zM23 6h1v1h-1zM30 6h1v1h-1zM36 6h1v1h-1zM1 7h1v1h-1zM10 7h1v1h-1zM12 7h1v1h-1zM16 7h2v1h-2zM19 7h1v1h-1zM21 7h1v1h-1zM23 7h1v1h-1zM26 7h1v1h-1zM31 7h2v1h-2zM35 7h1v1h-1zM0 8h2v1h-2zM3 8h3v1h-3zM10 8h1v1h-1zM12 8h1v1h-1zM17 8h1v1h-1zM21 8h1v1h-1zM27 8h1v1h-1zM35 8h2v1h-2zM0 9h1v1h-1zM5 9h1v1h-1zM8 9h2v1h-2zM18 9h2v1h-2zM23 9h3v1h-3zM30 9h1v1h-1zM35 9h2v1h-2zM0 10h2v1h-2zM3 10h2v1h-2zM6 10h2v1h-2zM15 10h2v1h-2zM20 10h2v1h-2zM23 10h1v1h-1zM26 10h1v1h-1zM32 10h1v1h-1zM35 10h2v1h-2zM1 11h2v1h-2zM5 11h1v1h-1zM7 11h2v1h-2zM10 11h1v1h-1zM14 11h1v1h-1zM16 11h1v1h-1zM20 11h1v1h-1zM28 11h1v1h-1zM30 11h2v1h-2zM36 11h1v1h-1zM0 12h1v1h-1zM5 12h1v1h-1zM7 12h5v1h-5zM15 12h3v1h-3zM30 12h2v1h-2zM2 13h1v1h-1zM7 13h1v1h-1zM9 13h2v1h-2zM14 13h1v1h-1zM16 13h2v1h-2zM20 13h1v1h-1zM22 13h1v1h-1zM24 13h1v1h-1zM26 13h1v1h-1zM28 13h1v1h-1zM31 13h1v1h-1zM33 13h1v1h-1zM35 13h1v1h-1zM0 14h2v1h-2zM5 14h1v1h-1zM9 14h1v1h-1zM14 14h1v1h-1zM16 14h1v1h-1zM18 14h5v1h-5zM29 14h2v1h-2zM33 14h2v1h-2zM3 15h1v1h-1zM5 15h3v1h-3zM16 15h3v1h-3zM20 15h1v1h-1zM22 15h2v1h-2zM25 15h1v1h-1zM27 15h1v1h-1zM29 15h2v1h-2zM34 15h2v1h-2zM0 16h4v1h-4zM6 16h3v1h-3zM11 16h1v1h-1zM19 16h1v1h-1zM22 16h1v1h-1zM25 16h3v1h-3zM29 16h2v1h-2zM32 16h1v1h-1zM35 16h1v1h-1zM3 17h1v1h-1zM7 17h2v1h-2zM12 17h2v1h-2zM15 17h1v1h-1zM18 17h2v1h-2zM21 17h1v1h-1zM26 17h3v1h-3zM35 17h1v1h-1zM0 18h1v1h-1zM3 18h1v1h-1zM7 18h1v1h-1zM9 18h1v1h-1zM11 18h1v1h-1zM13 18h1v1h-1zM17 18h1v1h-1zM20 18h1v1h-1zM25 18h2v1h-2zM33 18h2v1h-2zM3 19h1v1h-1zM5 19h2v1h-2zM9 19h1v1h-1zM16 19h1v1h-1zM19 19h1v1h-1zM23 19h1v1h-1zM25 19h1v1h-1zM31 19h1v1h-1zM33 19h4v1h-4zM2 20h2v1h-2zM8 20h1v1h-1zM13 20h1v1h-1zM15 20h2v1h-2zM18 20h2v1h-2zM21 20h1v1h-1zM26 20h1v1h-1zM35 20h1v1h-1zM3 21h1v1h-1zM11 21h2v1h-2zM22 21h2v1h-2zM28 21h1v1h-1zM32 21h1v1h-1zM0 22h2v1h-2zM4 22h1v1h-1zM11 22h1v1h-1zM13 22h2v1h-2zM18 22h1v1h-1zM22 22h1v1h-1zM28 22h2v1h-2zM36 22h1v1h-1zM11 23h3v1h-3zM15 23h1v1h-1zM18 23h1v1h-1zM24 23h1v1h-1zM26 23h1v1h-1zM30 23h2v1h-2zM33 23h1v1h-1zM36 23h1v1h-1zM2 24h1v1h-1zM5 24h1v1h-1zM7 24h1v1h-1zM11 24h1v1h-1zM16 24h1v1h-1zM20 24h3v1h-3zM28 24h2v1h-2zM33 24h1v1h-1zM0 25h1v1h-1zM3 25h1v1h-1zM8 25h4v1h-4zM14 25h3v1h-3zM18 25h1v1h-1zM21 25h2v1h-2zM27 25h1v1h-1zM29 25h1v1h-1zM32 25h3v1h-3zM1 26h1v1h-1zM3 26h3v1h-3zM7 26h1v1h-1zM10 26h1v1h-1zM13 26h1v1h-1zM19 26h1v1h-1zM25 26h1v1h-1zM33 26h1v1h-1zM7 27h1v1h-1zM13 27h4v1h-4zM18 27h2v1h-2zM28 27h2v1h-2zM32 27h1v1h-1zM35 27h1v1h-1zM0 28h1v1h-1zM8 28h1v1h-1zM11 28h1v1h-1zM16 28h1v1h-1zM24 28h1v1h-1zM28 28h1v1h-1zM34 28h2v1h-2zM5 29h1v1h-1zM14 29h1v1h-1zM20 29h2v1h-2zM23 29h2v1h-2zM28 29h1v1h-1zM31 29h2v1h-2zM0 30h1v1h-1zM2 30h1v1h-1zM5 30h1v1h-1zM9 30h3v1h-3zM15 30h1v1h-1zM19 30h1v1h-1zM21 30h2v1h-2zM29 30h1v1h-1zM32 30h1v1h-1zM35 30h1v1h-1zM1 31h1v1h-1zM3 31h2v1h-2zM10 31h3v1h-3zM20 31h1v1h-1zM22 31h1v1h-1zM26 31h1v1h-1zM28 31h2v1h-2zM31 31h1v1h-1zM34 31h1v1h-1zM0 32h2v1h-2zM3 32h3v1h-3zM7 32h1v1h-1zM12 32h2v1h-2zM17 32h1v1h-1zM20 32h1v1h-1zM23 32h1v1h-1zM30 32h1v1h-1zM32 32h1v1h-1zM34 32h1v1h-1zM5 33h1v1h-1zM12 33h2v1h-2zM18 33h1v1h-1zM21 33h1v1h-1zM28 33h2v1h-2zM33 33h1v1h-1zM1 34h2v1h-2zM5 34h1v1h-1zM8 34h1v1h-1zM13 34h1v1h-1zM17 34h2v1h-2zM22 34h1v1h-1zM27 34h1v1h-1zM32 34h1v1h-1zM35 34h1v1h-1zM4 35h1v1h-1zM7 35h1v1h-1zM9 35h1v1h-1zM13 35h1v1h-1zM16 35h1v1h-1zM18 35h1v1h-1zM20 35h1v1h-1zM24 35h1v1h-1zM26 35h1v1h-1zM28 35h1v1h-1zM34 35h1v1h-1zM1 36h1v1h-1zM15 36h1v1h-1zM17 36h2v1h-2zM21 36h1v1h-1zM23 36h3v1h-3zM29 36h1v1h-1zM31 36h1v1h-1z"/></pattern><pattern id="p2b_1" patternUnits="userSpaceOnUse" width="41" height="41"><path fill="#8e929c" d="M1 0h1v1h-1zM6 0h3v1h-3zM15 0h1v1h-1zM18 0h2v1h-2zM21 0h1v1h-1zM25 0h2v1h-2zM35 0h1v1h-1zM37 0h1v1h-1zM0 1h1v1h-1zM6 1h1v1h-1zM10 1h1v1h-1zM19 1h1v1h-1zM22 1h1v1h-1zM26 1h1v1h-1zM34 1h2v1h-2zM38 1h2v1h-2zM9 2h2v1h-2zM17 2h1v1h-1zM19 2h1v1h-1zM21 2h1v1h-1zM32 2h1v1h-1zM39 2h1v1h-1zM7 3h2v1h-2zM15 3h2v1h-2zM20 3h1v1h-1zM22 3h2v1h-2zM26 3h1v1h-1zM28 3h1v1h-1zM34 3h1v1h-1zM39 3h1v1h-1zM0 4h1v1h-1zM10 4h1v1h-1zM12 4h1v1h-1zM16 4h1v1h-1zM20 4h1v1h-1zM23 4h2v1h-2zM28 4h1v1h-1zM31 4h1v1h-1zM34 4h1v1h-1zM36 4h1v1h-1zM4 5h2v1h-2zM14 5h2v1h-2zM19 5h1v1h-1zM21 5h1v1h-1zM28 5h1v1h-1zM30 5h1v1h-1zM33 5h1v1h-1zM38 5h3v1h-3zM2 6h2v1h-2zM8 6h1v1h-1zM10 6h1v1h-1zM23 6h2v1h-2zM32 6h1v1h-1zM36 6h1v1h-1zM38 6h1v1h-1zM1 7h3v1h-3zM8 7h1v1h-1zM10 7h1v1h-1zM16 7h1v1h-1zM24 7h1v1h-1zM34 7h2v1h-2zM40 7h1v1h-1zM1 8h2v1h-2zM4 8h1v1h-1zM8 8h1v1h-1zM15 8h1v1h-1zM17 8h1v1h-1zM24 8h1v1h-1zM26 8h1v1h-1zM35 8h1v1h-1zM38 8h1v1h-1zM0 9h3v1h-3zM8 9h1v1h-1zM10 9h2v1h-2zM16 9h1v1h-1zM19 9h2v1h-2zM25 9h2v1h-2zM28 9h1v1h-1zM31 9h1v1h-1zM33 9h2v1h-2zM6 10h1v1h-1zM16 10h1v1h-1zM18 10h1v1h-1zM32 10h3v1h-3zM40 10h1v1h-1zM3 11h1v1h-1zM9 11h1v1h-1zM11 11h1v1h-1zM18 11h1v1h-1zM24 11h2v1h-2zM30 11h2v1h-2zM33 11h1v1h-1zM36 11h2v1h-2zM13 12h1v1h-1zM15 12h3v1h-3zM20 12h3v1h-3zM24 12h1v1h-1zM29 12h1v1h-1zM31 12h2v1h-2zM38 12h1v1h-1zM1 13h1v1h-1zM7 13h1v1h-1zM14 13h1v1h-1zM24 13h2v1h-2zM32 13h1v1h-1zM35 13h1v1h-1zM38 13h1v1h-1zM2 14h2v1h-2zM8 14h1v1h-1zM12 14h1v1h-1zM19 14h3v1h-3zM25 14h5v1h-5zM31 14h1v1h-1zM34 14h1v1h-1zM38 14h1v1h-1zM2 15h3v1h-3zM14 15h1v1h-1zM16 15h1v1h-1zM21 15h1v1h-1zM24 15h1v1h-1zM29 15h1v1h-1zM35 15h2v1h-2zM40 15h1v1h-1zM0 16h1v1h-1zM17 16h1v1h-1zM25 16h1v1h-1zM27 16h1v1h-1zM31 16h1v1h-1zM34 16h2v1h-2zM37 16h1v1h-1zM0 17h1v1h-1zM5 17h2v1h-2zM9 17h1v1h-1zM26 17h1v1h-1zM29 17h1v1h-1zM34 17h2v1h-2zM39 17h1v1h-1zM2 18h3v1h-3zM6 18h2v1h-2zM12 18h1v1h-1zM15 18h2v1h-2zM18 18h1v1h-1zM21 18h2v1h-2zM30 18h2v1h-2zM34 18h1v1h-1zM36 18h1v1h-1zM2 19h1v1h-1zM7 19h2v1h-2zM11 19h2v1h-2zM16 19h2v1h-2zM22 19h1v1h-1zM33 19h1v1h-1zM40 19h1v1h-1zM9 20h1v1h-1zM19 20h1v1h-1zM24 20h1v1h-1zM26 20h2v1h-2zM29 20h1v1h-1zM32 20h1v1h-1zM9 21h1v1h-1zM15 21h2v1h-2zM28 21h1v1h-1zM33 21h1v1h-1zM36 21h2v1h-2zM0 22h3v1h-3zM5 22h1v1h-1zM9 22h1v1h-1zM11 22h2v1h-2zM17 22h1v1h-1zM29 22h1v1h-1zM31 22h1v1h-1zM35 22h1v1h-1zM2 23h1v1h-1zM11 23h1v1h-1zM13 23h2v1h-2zM21 23h1v1h-1zM24 23h1v1h-1zM28 23h1v1h-1zM35 23h1v1h-1zM37 23h2v1h-2zM3 24h1v1h-1zM5 24h1v1h-1zM13 24h3v1h-3zM22 24h1v1h-1zM26 24h1v1h-1zM28 24h1v1h-1zM30 24h1v1h-1zM35 24h1v1h-1zM37 24h2v1h-2zM0 25h1v1h-1zM4 25h1v1h-1zM9 25h1v1h-1zM18 25h1v1h-1zM25 25h1v1h-1zM28 25h3v1h-3zM34 25h1v1h-1zM37 25h1v1h-1zM40 25h1v1h-1zM0 26h2v1h-2zM8 26h2v1h-2zM15 26h1v1h-1zM22 26h1v1h-1zM32 26h1v1h-1zM36 26h1v1h-1zM40 26h1v1h-1zM11 27h1v1h-1zM16 27h1v1h-1zM19 27h1v1h-1zM25 27h1v1h-1zM27 27h2v1h-2zM30 27h1v1h-1zM34 27h1v1h-1zM36 27h1v1h-1zM3 28h2v1h-2zM6 28h1v1h-1zM9 28h1v1h-1zM11 28h1v1h-1zM20 28h1v1h-1zM22 28h2v1h-2zM26 28h1v1h-1zM29 28h1v1h-1zM32 28h1v1h-1zM35 28h1v1h-1zM38 28h1v1h-1zM6 29h2v1h-2zM10 29h1v1h-1zM12 29h1v1h-1zM15 29h1v1h-1zM27 29h1v1h-1zM33 29h1v1h-1zM37 29h1v1h-1zM4 30h1v1h-1zM10 30h1v1h-1zM14 30h1v1h-1zM22 30h1v1h-1zM24 30h3v1h-3zM29 30h1v1h-1zM33 30h1v1h-1zM40 30h1v1h-1zM1 31h1v1h-1zM16 31h1v1h-1zM24 31h3v1h-3zM29 31h1v1h-1zM32 31h1v1h-1zM38 31h1v1h-1zM1 32h3v1h-3zM10 32h1v1h-1zM23 32h1v1h-1zM30 32h1v1h-1zM35 32h1v1h-1zM1 33h1v1h-1zM5 33h1v1h-1zM7 33h1v1h-1zM14 33h2v1h-2zM23 33h1v1h-1zM30 33h1v1h-1zM32 33h1v1h-1zM39 33h1v1h-1zM12 34h1v1h-1zM14 34h1v1h-1zM19 34h1v1h-1zM22 34h1v1h-1zM40 34h1v1h-1zM2 35h1v1h-1zM4 35h3v1h-3zM10 35h1v1h-1zM14 35h1v1h-1zM16 35h1v1h-1zM21 35h2v1h-2zM25 35h2v1h-2zM28 35h1v1h-1zM30 35h1v1h-1zM39 35h1v1h-1zM7 36h1v1h-1zM10 36h2v1h-2zM16 36h1v1h-1zM18 36h1v1h-1zM22 36h1v1h-1zM25 36h3v1h-3zM29 36h2v1h-2zM33 36h1v1h-1zM37 36h1v1h-1zM0 37h1v1h-1zM4 37h1v1h-1zM7 37h1v1h-1zM11 37h1v1h-1zM17 37h3v1h-3zM23 37h1v1h-1zM26 37h1v1h-1zM30 37h1v1h-1zM32 37h1v1h-1zM35 37h1v1h-1zM5 38h1v1h-1zM14 38h1v1h-1zM20 38h1v1h-1zM28 38h2v1h-2zM33 38h2v1h-2zM9 39h1v1h-1zM12 39h1v1h-1zM17 39h2v1h-2zM25 39h3v1h-3zM29 39h1v1h-1zM31 39h1v1h-1zM36 39h1v1h-1zM0 40h2v1h-2zM3 40h1v1h-1zM11 40h1v1h-1zM17 40h3v1h-3zM26 40h1v1h-1zM29 40h1v1h-1zM34 40h2v1h-2z"/></pattern><pattern id="p2b_2" patternUnits="userSpaceOnUse" width="43" height="43"><path fill="#5c5c68" d="M27 0h1v1h-1zM31 0h1v1h-1zM40 0h1v1h-1zM9 1h1v1h-1zM19 1h1v1h-1zM10 2h1v1h-1zM16 2h1v1h-1zM25 2h1v1h-1zM34 2h1v1h-1zM42 2h1v1h-1zM12 3h1v1h-1zM16 3h1v1h-1zM19 3h1v1h-1zM22 3h1v1h-1zM28 3h1v1h-1zM31 3h1v1h-1zM33 3h1v1h-1zM5 4h1v1h-1zM11 4h1v1h-1zM29 4h1v1h-1zM35 4h1v1h-1zM37 4h1v1h-1zM39 4h1v1h-1zM10 5h1v1h-1zM18 5h1v1h-1zM42 5h1v1h-1zM8 6h1v1h-1zM27 6h1v1h-1zM2 7h1v1h-1zM29 7h1v1h-1zM39 7h2v1h-2zM18 8h1v1h-1zM21 8h1v1h-1zM24 8h1v1h-1zM37 8h1v1h-1zM3 9h3v1h-3zM21 9h1v1h-1zM23 9h1v1h-1zM26 9h1v1h-1zM28 10h1v1h-1zM33 10h1v1h-1zM36 10h1v1h-1zM2 11h1v1h-1zM5 11h1v1h-1zM9 11h1v1h-1zM12 11h1v1h-1zM24 11h1v1h-1zM28 11h1v1h-1zM1 12h1v1h-1zM11 12h1v1h-1zM26 12h1v1h-1zM42 12h1v1h-1zM11 13h1v1h-1zM31 13h1v1h-1zM34 13h1v1h-1zM36 13h1v1h-1zM42 13h1v1h-1zM4 14h1v1h-1zM25 14h2v1h-2zM17 15h1v1h-1zM5 17h2v1h-2zM15 17h1v1h-1zM27 17h1v1h-1zM34 17h2v1h-2zM4 18h1v1h-1zM11 18h1v1h-1zM24 18h1v1h-1zM13 19h1v1h-1zM22 19h2v1h-2zM15 20h1v1h-1zM19 20h1v1h-1zM22 20h1v1h-1zM25 20h1v1h-1zM29 20h1v1h-1zM37 20h1v1h-1zM40 20h1v1h-1zM12 21h1v1h-1zM26 21h1v1h-1zM42 21h1v1h-1zM0 22h1v1h-1zM19 22h1v1h-1zM1 23h2v1h-2zM5 23h1v1h-1zM8 23h1v1h-1zM20 23h1v1h-1zM27 23h1v1h-1zM29 23h1v1h-1zM33 23h1v1h-1zM38 23h1v1h-1zM9 24h1v1h-1zM20 24h1v1h-1zM26 24h1v1h-1zM9 25h1v1h-1zM35 25h1v1h-1zM9 26h1v1h-1zM13 26h1v1h-1zM25 26h1v1h-1zM14 28h1v1h-1zM17 28h1v1h-1zM23 28h1v1h-1zM37 28h1v1h-1zM11 29h2v1h-2zM18 29h1v1h-1zM38 29h1v1h-1zM42 29h1v1h-1zM0 30h1v1h-1zM3 30h2v1h-2zM14 30h1v1h-1zM29 30h1v1h-1zM39 30h1v1h-1zM12 31h1v1h-1zM42 32h1v1h-1zM3 33h2v1h-2zM19 33h1v1h-1zM32 33h1v1h-1zM40 33h1v1h-1zM1 34h1v1h-1zM3 34h3v1h-3zM10 34h1v1h-1zM22 34h2v1h-2zM6 35h1v1h-1zM16 36h1v1h-1zM19 37h1v1h-1zM25 37h2v1h-2zM34 37h1v1h-1zM42 37h1v1h-1zM25 38h1v1h-1zM42 38h1v1h-1zM0 39h1v1h-1zM25 39h1v1h-1zM42 39h1v1h-1zM31 40h1v1h-1zM38 40h1v1h-1zM42 40h1v1h-1zM12 41h1v1h-1zM27 41h1v1h-1z"/></pattern><pattern id="p2b_3" patternUnits="userSpaceOnUse" width="47" height="47"><path fill="#202020" d="M20 0h1v1h-1zM28 0h1v1h-1zM3 1h1v1h-1zM45 1h1v1h-1zM40 3h1v1h-1zM29 4h1v1h-1zM35 4h1v1h-1zM18 7h1v1h-1zM8 9h1v1h-1zM29 9h1v1h-1zM1 11h1v1h-1zM36 12h1v1h-1zM44 12h1v1h-1zM36 13h1v1h-1zM27 17h1v1h-1zM34 17h1v1h-1zM26 18h2v1h-2zM11 19h1v1h-1zM17 19h1v1h-1zM3 20h1v1h-1zM17 22h1v1h-1zM29 25h1v1h-1zM43 29h1v1h-1zM0 31h1v1h-1zM9 32h1v1h-1zM22 32h1v1h-1zM12 34h1v1h-1zM42 34h1v1h-1zM30 35h1v1h-1zM34 36h1v1h-1zM42 36h1v1h-1zM46 36h1v1h-1zM3 37h1v1h-1zM26 37h1v1h-1zM40 38h1v1h-1zM13 39h1v1h-1zM30 39h1v1h-1zM25 40h1v1h-1zM45 40h1v1h-1zM11 41h1v1h-1zM24 41h1v1h-1zM38 41h1v1h-1zM5 43h1v1h-1zM7 43h1v1h-1zM28 43h1v1h-1zM2 44h1v1h-1zM5 44h1v1h-1zM13 44h1v1h-1zM39 45h1v1h-1zM45 45h1v1h-1zM28 46h1v1h-1z"/></pattern><pattern id="p2l_0" patternUnits="userSpaceOnUse" width="37" height="37"><path fill="#44444e" d="M0 0h1v1h-1zM4 0h2v1h-2zM7 0h1v1h-1zM10 0h6v1h-6zM17 0h2v1h-2zM20 0h1v1h-1zM22 0h2v1h-2zM2 1h1v1h-1zM4 1h2v1h-2zM7 1h1v1h-1zM10 1h1v1h-1zM15 1h1v1h-1zM17 1h4v1h-4zM22 1h1v1h-1zM25 1h2v1h-2zM28 1h1v1h-1zM31 1h1v1h-1zM2 2h2v1h-2zM5 2h2v1h-2zM8 2h1v1h-1zM10 2h3v1h-3zM15 2h1v1h-1zM18 2h1v1h-1zM20 2h1v1h-1zM23 2h1v1h-1zM31 2h2v1h-2zM36 2h1v1h-1zM7 3h2v1h-2zM11 3h1v1h-1zM14 3h2v1h-2zM20 3h3v1h-3zM25 3h2v1h-2zM34 3h2v1h-2zM0 4h1v1h-1zM2 4h1v1h-1zM5 4h1v1h-1zM7 4h2v1h-2zM12 4h1v1h-1zM15 4h1v1h-1zM20 4h1v1h-1zM24 4h1v1h-1zM26 4h3v1h-3zM31 4h1v1h-1zM33 4h4v1h-4zM2 5h1v1h-1zM7 5h5v1h-5zM14 5h2v1h-2zM17 5h1v1h-1zM21 5h3v1h-3zM25 5h1v1h-1zM28 5h4v1h-4zM33 5h1v1h-1zM36 5h1v1h-1zM0 6h1v1h-1zM2 6h2v1h-2zM5 6h1v1h-1zM7 6h2v1h-2zM10 6h1v1h-1zM14 6h4v1h-4zM19 6h2v1h-2zM25 6h5v1h-5zM31 6h3v1h-3zM35 6h2v1h-2zM0 7h3v1h-3zM5 7h2v1h-2zM16 7h3v1h-3zM20 7h2v1h-2zM23 7h1v1h-1zM27 7h1v1h-1zM29 7h1v1h-1zM31 7h2v1h-2zM34 7h2v1h-2zM0 8h2v1h-2zM6 8h1v1h-1zM9 8h1v1h-1zM11 8h1v1h-1zM18 8h3v1h-3zM23 8h1v1h-1zM27 8h2v1h-2zM30 8h1v1h-1zM34 8h2v1h-2zM1 9h1v1h-1zM14 9h1v1h-1zM16 9h1v1h-1zM18 9h1v1h-1zM20 9h2v1h-2zM24 9h1v1h-1zM27 9h3v1h-3zM31 9h1v1h-1zM1 10h2v1h-2zM4 10h1v1h-1zM6 10h1v1h-1zM15 10h1v1h-1zM18 10h1v1h-1zM20 10h3v1h-3zM25 10h1v1h-1zM30 10h1v1h-1zM1 11h1v1h-1zM3 11h1v1h-1zM9 11h1v1h-1zM19 11h3v1h-3zM27 11h1v1h-1zM29 11h3v1h-3zM33 11h3v1h-3zM3 12h3v1h-3zM10 12h1v1h-1zM12 12h1v1h-1zM14 12h2v1h-2zM18 12h2v1h-2zM21 12h2v1h-2zM24 12h3v1h-3zM30 12h1v1h-1zM32 12h1v1h-1zM1 13h2v1h-2zM8 13h2v1h-2zM11 13h1v1h-1zM13 13h1v1h-1zM17 13h2v1h-2zM23 13h1v1h-1zM26 13h1v1h-1zM28 13h1v1h-1zM30 13h1v1h-1zM32 13h2v1h-2zM0 14h1v1h-1zM3 14h1v1h-1zM6 14h1v1h-1zM8 14h2v1h-2zM12 14h2v1h-2zM15 14h1v1h-1zM19 14h1v1h-1zM21 14h1v1h-1zM25 14h1v1h-1zM27 14h1v1h-1zM30 14h5v1h-5zM1 15h1v1h-1zM3 15h3v1h-3zM8 15h1v1h-1zM12 15h1v1h-1zM20 15h1v1h-1zM25 15h2v1h-2zM31 15h2v1h-2zM2 16h1v1h-1zM4 16h1v1h-1zM8 16h2v1h-2zM15 16h2v1h-2zM19 16h1v1h-1zM21 16h2v1h-2zM27 16h1v1h-1zM29 16h3v1h-3zM33 16h1v1h-1zM0 17h3v1h-3zM12 17h5v1h-5zM22 17h1v1h-1zM26 17h1v1h-1zM28 17h1v1h-1zM36 17h1v1h-1zM4 18h3v1h-3zM8 18h2v1h-2zM14 18h1v1h-1zM20 18h1v1h-1zM22 18h1v1h-1zM26 18h1v1h-1zM28 18h1v1h-1zM34 18h3v1h-3zM4 19h1v1h-1zM6 19h4v1h-4zM12 19h2v1h-2zM15 19h1v1h-1zM21 19h1v1h-1zM26 19h1v1h-1zM28 19h2v1h-2zM35 19h1v1h-1zM0 20h4v1h-4zM9 20h1v1h-1zM11 20h1v1h-1zM16 20h1v1h-1zM20 20h4v1h-4zM28 20h2v1h-2zM34 20h1v1h-1zM3 21h2v1h-2zM6 21h2v1h-2zM9 21h1v1h-1zM15 21h1v1h-1zM19 21h3v1h-3zM28 21h2v1h-2zM34 21h1v1h-1zM7 22h1v1h-1zM12 22h1v1h-1zM16 22h2v1h-2zM23 22h1v1h-1zM25 22h1v1h-1zM28 22h1v1h-1zM30 22h1v1h-1zM34 22h1v1h-1zM5 23h1v1h-1zM7 23h1v1h-1zM11 23h1v1h-1zM15 23h1v1h-1zM17 23h1v1h-1zM21 23h1v1h-1zM23 23h2v1h-2zM28 23h1v1h-1zM36 23h1v1h-1zM4 24h1v1h-1zM7 24h1v1h-1zM11 24h1v1h-1zM13 24h1v1h-1zM15 24h1v1h-1zM18 24h1v1h-1zM27 24h1v1h-1zM32 24h1v1h-1zM0 25h2v1h-2zM7 25h1v1h-1zM9 25h1v1h-1zM14 25h2v1h-2zM20 25h1v1h-1zM29 25h1v1h-1zM32 25h1v1h-1zM34 25h1v1h-1zM4 26h1v1h-1zM9 26h2v1h-2zM12 26h1v1h-1zM18 26h4v1h-4zM23 26h1v1h-1zM26 26h1v1h-1zM28 26h1v1h-1zM31 26h1v1h-1zM36 26h1v1h-1zM0 27h1v1h-1zM2 27h1v1h-1zM6 27h1v1h-1zM8 27h6v1h-6zM15 27h2v1h-2zM18 27h1v1h-1zM22 27h1v1h-1zM29 27h1v1h-1zM35 27h1v1h-1zM0 28h1v1h-1zM3 28h1v1h-1zM6 28h1v1h-1zM8 28h1v1h-1zM14 28h2v1h-2zM19 28h1v1h-1zM21 28h2v1h-2zM28 28h1v1h-1zM33 28h1v1h-1zM5 29h1v1h-1zM7 29h1v1h-1zM11 29h4v1h-4zM18 29h2v1h-2zM21 29h1v1h-1zM28 29h2v1h-2zM34 29h1v1h-1zM36 29h1v1h-1zM4 30h2v1h-2zM10 30h2v1h-2zM14 30h1v1h-1zM16 30h1v1h-1zM18 30h1v1h-1zM20 30h1v1h-1zM24 30h2v1h-2zM27 30h2v1h-2zM31 30h2v1h-2zM36 30h1v1h-1zM3 31h1v1h-1zM5 31h1v1h-1zM7 31h1v1h-1zM11 31h3v1h-3zM20 31h4v1h-4zM25 31h1v1h-1zM27 31h4v1h-4zM32 31h1v1h-1zM36 31h1v1h-1zM3 32h1v1h-1zM7 32h3v1h-3zM13 32h1v1h-1zM16 32h1v1h-1zM19 32h1v1h-1zM24 32h1v1h-1zM29 32h4v1h-4zM34 32h1v1h-1zM0 33h1v1h-1zM2 33h1v1h-1zM6 33h1v1h-1zM10 33h2v1h-2zM14 33h1v1h-1zM17 33h1v1h-1zM20 33h2v1h-2zM24 33h2v1h-2zM35 33h2v1h-2zM3 34h1v1h-1zM12 34h2v1h-2zM20 34h1v1h-1zM22 34h1v1h-1zM26 34h1v1h-1zM30 34h1v1h-1zM35 34h1v1h-1zM3 35h3v1h-3zM8 35h1v1h-1zM10 35h2v1h-2zM21 35h1v1h-1zM27 35h1v1h-1zM31 35h2v1h-2zM6 36h1v1h-1zM10 36h1v1h-1zM12 36h1v1h-1zM17 36h1v1h-1zM24 36h1v1h-1zM27 36h2v1h-2zM32 36h2v1h-2z"/></pattern><pattern id="p2l_1" patternUnits="userSpaceOnUse" width="41" height="41"><path fill="#8e929c" d="M2 0h1v1h-1zM9 0h1v1h-1zM12 0h1v1h-1zM14 0h1v1h-1zM18 0h1v1h-1zM22 0h2v1h-2zM26 0h1v1h-1zM32 0h1v1h-1zM34 0h1v1h-1zM38 0h2v1h-2zM3 1h3v1h-3zM10 1h1v1h-1zM12 1h1v1h-1zM14 1h1v1h-1zM23 1h4v1h-4zM28 1h1v1h-1zM31 1h3v1h-3zM35 1h2v1h-2zM0 2h1v1h-1zM3 2h1v1h-1zM5 2h2v1h-2zM9 2h2v1h-2zM13 2h1v1h-1zM17 2h4v1h-4zM25 2h1v1h-1zM27 2h1v1h-1zM30 2h1v1h-1zM32 2h2v1h-2zM36 2h1v1h-1zM40 2h1v1h-1zM1 3h1v1h-1zM3 3h1v1h-1zM10 3h3v1h-3zM15 3h1v1h-1zM17 3h1v1h-1zM19 3h3v1h-3zM25 3h5v1h-5zM33 3h1v1h-1zM36 3h1v1h-1zM2 4h1v1h-1zM8 4h2v1h-2zM15 4h1v1h-1zM17 4h2v1h-2zM24 4h1v1h-1zM27 4h1v1h-1zM29 4h1v1h-1zM37 4h1v1h-1zM4 5h2v1h-2zM7 5h1v1h-1zM11 5h1v1h-1zM13 5h1v1h-1zM15 5h5v1h-5zM23 5h1v1h-1zM26 5h2v1h-2zM32 5h1v1h-1zM36 5h2v1h-2zM40 5h1v1h-1zM1 6h1v1h-1zM5 6h1v1h-1zM8 6h2v1h-2zM14 6h1v1h-1zM17 6h1v1h-1zM21 6h3v1h-3zM26 6h2v1h-2zM31 6h4v1h-4zM37 6h1v1h-1zM39 6h1v1h-1zM0 7h4v1h-4zM5 7h2v1h-2zM10 7h1v1h-1zM12 7h1v1h-1zM15 7h1v1h-1zM19 7h2v1h-2zM25 7h2v1h-2zM28 7h1v1h-1zM33 7h2v1h-2zM3 8h1v1h-1zM6 8h5v1h-5zM12 8h1v1h-1zM15 8h2v1h-2zM22 8h1v1h-1zM26 8h2v1h-2zM29 8h1v1h-1zM33 8h3v1h-3zM37 8h1v1h-1zM2 9h1v1h-1zM8 9h1v1h-1zM11 9h1v1h-1zM18 9h1v1h-1zM22 9h1v1h-1zM25 9h1v1h-1zM27 9h1v1h-1zM32 9h2v1h-2zM37 9h1v1h-1zM2 10h1v1h-1zM9 10h2v1h-2zM14 10h1v1h-1zM19 10h4v1h-4zM28 10h1v1h-1zM33 10h2v1h-2zM37 10h2v1h-2zM6 11h1v1h-1zM8 11h2v1h-2zM14 11h1v1h-1zM16 11h1v1h-1zM18 11h1v1h-1zM21 11h1v1h-1zM23 11h1v1h-1zM26 11h3v1h-3zM33 11h2v1h-2zM36 11h1v1h-1zM38 11h1v1h-1zM0 12h1v1h-1zM2 12h1v1h-1zM4 12h1v1h-1zM6 12h2v1h-2zM12 12h1v1h-1zM18 12h1v1h-1zM21 12h1v1h-1zM23 12h2v1h-2zM31 12h1v1h-1zM0 13h1v1h-1zM4 13h1v1h-1zM6 13h1v1h-1zM8 13h2v1h-2zM13 13h2v1h-2zM17 13h1v1h-1zM23 13h1v1h-1zM27 13h1v1h-1zM30 13h1v1h-1zM34 13h1v1h-1zM38 13h1v1h-1zM1 14h1v1h-1zM6 14h1v1h-1zM8 14h1v1h-1zM10 14h2v1h-2zM18 14h1v1h-1zM26 14h1v1h-1zM29 14h1v1h-1zM31 14h1v1h-1zM33 14h1v1h-1zM35 14h1v1h-1zM38 14h1v1h-1zM1 15h1v1h-1zM5 15h2v1h-2zM8 15h1v1h-1zM18 15h3v1h-3zM23 15h2v1h-2zM32 15h1v1h-1zM36 15h1v1h-1zM40 15h1v1h-1zM4 16h3v1h-3zM8 16h1v1h-1zM15 16h1v1h-1zM18 16h1v1h-1zM20 16h1v1h-1zM22 16h2v1h-2zM26 16h3v1h-3zM31 16h1v1h-1zM36 16h2v1h-2zM40 16h1v1h-1zM6 17h2v1h-2zM9 17h1v1h-1zM11 17h1v1h-1zM13 17h1v1h-1zM15 17h2v1h-2zM20 17h1v1h-1zM22 17h1v1h-1zM25 17h1v1h-1zM28 17h1v1h-1zM32 17h1v1h-1zM35 17h1v1h-1zM7 18h1v1h-1zM9 18h1v1h-1zM12 18h1v1h-1zM15 18h1v1h-1zM23 18h1v1h-1zM27 18h4v1h-4zM34 18h1v1h-1zM37 18h1v1h-1zM39 18h2v1h-2zM5 19h1v1h-1zM15 19h1v1h-1zM17 19h1v1h-1zM22 19h1v1h-1zM24 19h1v1h-1zM26 19h2v1h-2zM31 19h2v1h-2zM34 19h2v1h-2zM4 20h1v1h-1zM6 20h4v1h-4zM12 20h2v1h-2zM17 20h1v1h-1zM19 20h2v1h-2zM22 20h2v1h-2zM30 20h1v1h-1zM33 20h1v1h-1zM36 20h1v1h-1zM39 20h1v1h-1zM0 21h2v1h-2zM7 21h1v1h-1zM11 21h2v1h-2zM19 21h1v1h-1zM22 21h1v1h-1zM27 21h4v1h-4zM32 21h1v1h-1zM34 21h1v1h-1zM39 21h1v1h-1zM0 22h1v1h-1zM3 22h1v1h-1zM6 22h2v1h-2zM10 22h2v1h-2zM20 22h2v1h-2zM23 22h1v1h-1zM25 22h1v1h-1zM30 22h1v1h-1zM33 22h1v1h-1zM37 22h2v1h-2zM3 23h1v1h-1zM6 23h1v1h-1zM8 23h2v1h-2zM11 23h1v1h-1zM13 23h2v1h-2zM16 23h3v1h-3zM20 23h3v1h-3zM27 23h1v1h-1zM35 23h1v1h-1zM37 23h1v1h-1zM0 24h1v1h-1zM3 24h2v1h-2zM9 24h1v1h-1zM13 24h1v1h-1zM18 24h1v1h-1zM22 24h1v1h-1zM24 24h6v1h-6zM31 24h1v1h-1zM33 24h1v1h-1zM40 24h1v1h-1zM0 25h1v1h-1zM2 25h1v1h-1zM6 25h3v1h-3zM11 25h5v1h-5zM19 25h1v1h-1zM24 25h1v1h-1zM28 25h1v1h-1zM32 25h2v1h-2zM36 25h1v1h-1zM38 25h1v1h-1zM40 25h1v1h-1zM0 26h3v1h-3zM6 26h1v1h-1zM9 26h1v1h-1zM12 26h2v1h-2zM15 26h1v1h-1zM17 26h4v1h-4zM23 26h2v1h-2zM27 26h1v1h-1zM29 26h1v1h-1zM31 26h1v1h-1zM33 26h1v1h-1zM36 26h2v1h-2zM39 26h1v1h-1zM4 27h3v1h-3zM9 27h1v1h-1zM13 27h1v1h-1zM16 27h1v1h-1zM19 27h1v1h-1zM24 27h1v1h-1zM27 27h1v1h-1zM31 27h1v1h-1zM34 27h2v1h-2zM5 28h1v1h-1zM8 28h3v1h-3zM12 28h1v1h-1zM15 28h2v1h-2zM19 28h2v1h-2zM23 28h1v1h-1zM27 28h2v1h-2zM32 28h1v1h-1zM34 28h1v1h-1zM36 28h1v1h-1zM38 28h2v1h-2zM3 29h1v1h-1zM6 29h1v1h-1zM8 29h1v1h-1zM14 29h2v1h-2zM17 29h1v1h-1zM23 29h2v1h-2zM26 29h1v1h-1zM28 29h1v1h-1zM30 29h1v1h-1zM32 29h1v1h-1zM36 29h5v1h-5zM2 30h1v1h-1zM4 30h1v1h-1zM6 30h3v1h-3zM12 30h3v1h-3zM16 30h1v1h-1zM20 30h1v1h-1zM24 30h1v1h-1zM28 30h3v1h-3zM34 30h1v1h-1zM0 31h3v1h-3zM4 31h1v1h-1zM6 31h1v1h-1zM12 31h3v1h-3zM22 31h1v1h-1zM26 31h1v1h-1zM28 31h1v1h-1zM34 31h1v1h-1zM37 31h2v1h-2zM40 31h1v1h-1zM3 32h1v1h-1zM9 32h6v1h-6zM18 32h1v1h-1zM20 32h2v1h-2zM23 32h1v1h-1zM27 32h2v1h-2zM1 33h1v1h-1zM3 33h1v1h-1zM7 33h3v1h-3zM14 33h1v1h-1zM16 33h1v1h-1zM21 33h2v1h-2zM27 33h1v1h-1zM34 33h2v1h-2zM38 33h1v1h-1zM2 34h1v1h-1zM8 34h1v1h-1zM10 34h2v1h-2zM15 34h1v1h-1zM17 34h2v1h-2zM20 34h1v1h-1zM24 34h3v1h-3zM28 34h2v1h-2zM34 34h1v1h-1zM36 34h1v1h-1zM38 34h1v1h-1zM4 35h1v1h-1zM6 35h1v1h-1zM8 35h3v1h-3zM13 35h3v1h-3zM30 35h1v1h-1zM32 35h2v1h-2zM39 35h1v1h-1zM0 36h1v1h-1zM2 36h1v1h-1zM6 36h1v1h-1zM9 36h2v1h-2zM22 36h1v1h-1zM26 36h1v1h-1zM30 36h7v1h-7zM38 36h1v1h-1zM2 37h2v1h-2zM6 37h2v1h-2zM11 37h1v1h-1zM13 37h3v1h-3zM19 37h1v1h-1zM21 37h2v1h-2zM28 37h1v1h-1zM30 37h1v1h-1zM35 37h1v1h-1zM37 37h1v1h-1zM40 37h1v1h-1zM1 38h1v1h-1zM3 38h1v1h-1zM6 38h1v1h-1zM12 38h1v1h-1zM17 38h1v1h-1zM22 38h5v1h-5zM28 38h4v1h-4zM34 38h6v1h-6zM8 39h1v1h-1zM11 39h4v1h-4zM16 39h1v1h-1zM23 39h1v1h-1zM28 39h1v1h-1zM30 39h1v1h-1zM34 39h2v1h-2zM37 39h1v1h-1zM40 39h1v1h-1zM3 40h1v1h-1zM6 40h1v1h-1zM10 40h1v1h-1zM12 40h1v1h-1zM15 40h1v1h-1zM19 40h3v1h-3zM27 40h1v1h-1zM34 40h2v1h-2z"/></pattern><pattern id="p2l_2" patternUnits="userSpaceOnUse" width="43" height="43"><path fill="#c6c7cb" d="M5 0h1v1h-1zM17 0h1v1h-1zM22 0h1v1h-1zM39 0h1v1h-1zM41 0h1v1h-1zM15 1h2v1h-2zM22 1h1v1h-1zM30 1h1v1h-1zM32 1h2v1h-2zM36 1h1v1h-1zM7 2h1v1h-1zM36 2h1v1h-1zM42 2h1v1h-1zM12 3h1v1h-1zM25 3h1v1h-1zM30 3h1v1h-1zM34 3h1v1h-1zM38 3h1v1h-1zM41 3h1v1h-1zM9 4h1v1h-1zM13 4h3v1h-3zM22 4h2v1h-2zM31 4h1v1h-1zM33 4h1v1h-1zM19 5h1v1h-1zM23 5h1v1h-1zM36 5h1v1h-1zM17 6h1v1h-1zM20 6h1v1h-1zM25 6h1v1h-1zM28 6h1v1h-1zM0 7h1v1h-1zM0 8h1v1h-1zM4 8h2v1h-2zM26 8h1v1h-1zM33 8h1v1h-1zM38 8h1v1h-1zM42 8h1v1h-1zM9 9h1v1h-1zM11 9h1v1h-1zM18 9h2v1h-2zM25 9h1v1h-1zM28 9h1v1h-1zM30 9h2v1h-2zM9 10h1v1h-1zM11 10h1v1h-1zM17 10h1v1h-1zM21 10h1v1h-1zM25 10h1v1h-1zM22 11h1v1h-1zM40 11h1v1h-1zM5 12h1v1h-1zM7 12h1v1h-1zM14 12h1v1h-1zM20 12h1v1h-1zM31 12h1v1h-1zM0 13h1v1h-1zM2 13h2v1h-2zM5 13h1v1h-1zM7 13h2v1h-2zM11 13h1v1h-1zM17 13h1v1h-1zM27 13h1v1h-1zM40 13h1v1h-1zM42 13h1v1h-1zM5 14h1v1h-1zM9 14h1v1h-1zM17 14h1v1h-1zM24 14h1v1h-1zM29 14h1v1h-1zM40 14h1v1h-1zM5 15h1v1h-1zM26 15h1v1h-1zM31 15h1v1h-1zM35 15h1v1h-1zM8 16h1v1h-1zM12 16h1v1h-1zM31 16h1v1h-1zM40 16h1v1h-1zM21 17h1v1h-1zM32 17h1v1h-1zM36 17h1v1h-1zM8 18h1v1h-1zM17 18h1v1h-1zM23 18h1v1h-1zM40 18h1v1h-1zM11 19h1v1h-1zM13 19h2v1h-2zM18 19h1v1h-1zM29 19h1v1h-1zM1 20h1v1h-1zM6 20h1v1h-1zM8 20h1v1h-1zM12 20h1v1h-1zM24 20h1v1h-1zM0 21h1v1h-1zM18 21h1v1h-1zM20 21h1v1h-1zM30 21h1v1h-1zM34 21h1v1h-1zM37 21h1v1h-1zM7 22h1v1h-1zM38 22h2v1h-2zM42 22h1v1h-1zM17 23h1v1h-1zM27 23h1v1h-1zM38 23h1v1h-1zM0 24h1v1h-1zM5 24h1v1h-1zM21 24h2v1h-2zM31 24h1v1h-1zM0 25h1v1h-1zM4 25h2v1h-2zM7 25h1v1h-1zM33 25h1v1h-1zM14 26h1v1h-1zM25 26h1v1h-1zM27 26h1v1h-1zM32 26h1v1h-1zM41 27h1v1h-1zM0 28h1v1h-1zM9 28h2v1h-2zM15 28h1v1h-1zM19 28h1v1h-1zM32 28h1v1h-1zM34 28h1v1h-1zM13 29h1v1h-1zM26 29h1v1h-1zM40 29h1v1h-1zM6 30h2v1h-2zM17 30h1v1h-1zM26 30h1v1h-1zM31 30h1v1h-1zM34 30h1v1h-1zM1 31h1v1h-1zM19 31h1v1h-1zM29 31h1v1h-1zM40 31h1v1h-1zM42 31h1v1h-1zM20 32h1v1h-1zM23 32h1v1h-1zM37 32h1v1h-1zM6 33h1v1h-1zM28 33h1v1h-1zM36 33h1v1h-1zM21 34h1v1h-1zM34 34h1v1h-1zM36 34h2v1h-2zM8 35h1v1h-1zM13 35h1v1h-1zM17 35h1v1h-1zM29 35h1v1h-1zM32 35h2v1h-2zM37 35h1v1h-1zM39 35h1v1h-1zM42 35h1v1h-1zM3 36h1v1h-1zM7 36h1v1h-1zM27 36h1v1h-1zM29 36h1v1h-1zM39 36h2v1h-2zM5 37h1v1h-1zM8 37h1v1h-1zM12 37h1v1h-1zM35 37h1v1h-1zM39 37h1v1h-1zM41 37h2v1h-2zM1 38h1v1h-1zM9 38h2v1h-2zM19 38h1v1h-1zM21 38h1v1h-1zM34 38h2v1h-2zM25 39h1v1h-1zM30 39h1v1h-1zM41 39h1v1h-1zM27 40h1v1h-1zM30 40h1v1h-1zM33 40h1v1h-1zM40 40h1v1h-1zM24 41h1v1h-1zM28 41h1v1h-1zM5 42h1v1h-1zM7 42h1v1h-1zM17 42h1v1h-1zM29 42h1v1h-1zM33 42h1v1h-1z"/></pattern><pattern id="p2l_3" patternUnits="userSpaceOnUse" width="47" height="47"><path fill="#ffffff" d="M8 0h1v1h-1zM15 0h1v1h-1zM7 1h1v1h-1zM36 2h1v1h-1zM7 3h1v1h-1zM27 4h1v1h-1zM46 5h1v1h-1zM22 6h1v1h-1zM0 7h2v1h-2zM35 7h1v1h-1zM3 9h1v1h-1zM42 10h1v1h-1zM17 11h1v1h-1zM23 11h1v1h-1zM37 11h1v1h-1zM33 12h1v1h-1zM14 13h1v1h-1zM16 13h1v1h-1zM32 13h1v1h-1zM45 14h1v1h-1zM12 15h1v1h-1zM23 15h1v1h-1zM11 17h1v1h-1zM38 17h1v1h-1zM26 19h1v1h-1zM30 19h1v1h-1zM35 19h1v1h-1zM5 20h1v1h-1zM23 21h1v1h-1zM16 22h1v1h-1zM23 22h1v1h-1zM13 23h1v1h-1zM1 24h1v1h-1zM37 24h1v1h-1zM22 25h1v1h-1zM28 25h1v1h-1zM21 26h1v1h-1zM2 27h1v1h-1zM7 27h1v1h-1zM24 27h1v1h-1zM36 27h1v1h-1zM3 28h1v1h-1zM35 28h1v1h-1zM21 29h1v1h-1zM39 30h1v1h-1zM17 32h1v1h-1zM25 32h1v1h-1zM32 32h1v1h-1zM0 33h1v1h-1zM20 33h1v1h-1zM7 34h1v1h-1zM10 34h1v1h-1zM19 34h1v1h-1zM31 34h1v1h-1zM36 35h2v1h-2zM41 35h1v1h-1zM36 36h1v1h-1zM19 37h1v1h-1zM27 37h1v1h-1zM33 37h1v1h-1zM27 38h1v1h-1zM37 38h1v1h-1zM42 38h1v1h-1zM29 39h1v1h-1zM33 39h1v1h-1zM15 40h1v1h-1zM22 40h1v1h-1zM16 41h1v1h-1zM25 41h1v1h-1zM34 41h1v1h-1zM41 41h1v1h-1zM5 44h1v1h-1zM12 44h1v1h-1zM32 44h2v1h-2zM44 44h1v1h-1zM7 45h1v1h-1zM21 45h1v1h-1zM37 45h1v1h-1zM42 45h2v1h-2zM11 46h1v1h-1zM36 46h1v1h-1z"/></pattern><pattern id="p3b_0" patternUnits="userSpaceOnUse" width="37" height="37"><path fill="#ffffff" d="M36 0h1v1h-1zM22 1h1v1h-1zM24 1h1v1h-1zM6 2h2v1h-2zM12 2h1v1h-1zM23 2h1v1h-1zM17 4h1v1h-1zM20 4h1v1h-1zM29 4h1v1h-1zM35 4h1v1h-1zM2 5h1v1h-1zM17 5h1v1h-1zM25 5h1v1h-1zM28 5h1v1h-1zM33 5h1v1h-1zM11 7h1v1h-1zM27 7h1v1h-1zM32 8h1v1h-1zM36 8h1v1h-1zM11 9h1v1h-1zM19 9h1v1h-1zM30 9h2v1h-2zM35 9h1v1h-1zM34 10h1v1h-1zM15 11h1v1h-1zM36 11h1v1h-1zM7 12h1v1h-1zM12 12h1v1h-1zM29 12h1v1h-1zM1 13h1v1h-1zM8 13h1v1h-1zM22 13h1v1h-1zM26 13h1v1h-1zM28 13h1v1h-1zM31 13h2v1h-2zM4 14h1v1h-1zM20 14h2v1h-2zM2 15h1v1h-1zM16 15h1v1h-1zM22 16h1v1h-1zM27 16h1v1h-1zM34 16h3v1h-3zM7 17h1v1h-1zM13 17h2v1h-2zM22 17h1v1h-1zM26 18h1v1h-1zM30 18h1v1h-1zM3 19h1v1h-1zM1 20h1v1h-1zM31 20h1v1h-1zM26 22h1v1h-1zM36 22h1v1h-1zM7 23h1v1h-1zM9 24h1v1h-1zM24 24h1v1h-1zM35 24h1v1h-1zM1 25h1v1h-1zM29 25h1v1h-1zM32 26h1v1h-1zM25 27h1v1h-1zM1 28h1v1h-1zM9 28h1v1h-1zM5 29h1v1h-1zM9 29h1v1h-1zM13 29h1v1h-1zM36 29h1v1h-1zM8 30h1v1h-1zM24 30h1v1h-1zM33 30h1v1h-1zM6 31h1v1h-1zM36 31h1v1h-1zM3 32h1v1h-1zM16 32h1v1h-1zM26 32h1v1h-1zM2 33h1v1h-1zM5 33h1v1h-1zM10 33h1v1h-1zM13 36h1v1h-1zM25 36h1v1h-1zM27 36h1v1h-1z"/></pattern><pattern id="p3b_1" patternUnits="userSpaceOnUse" width="41" height="41"><path fill="#ffffff" d="M26 1h1v1h-1zM40 1h1v1h-1zM2 2h1v1h-1zM24 2h1v1h-1zM2 3h1v1h-1zM10 5h1v1h-1zM2 6h1v1h-1zM19 7h1v1h-1zM36 7h1v1h-1zM29 8h1v1h-1zM34 8h1v1h-1zM1 9h1v1h-1zM4 9h1v1h-1zM23 9h1v1h-1zM33 9h1v1h-1zM35 9h1v1h-1zM10 10h1v1h-1zM40 10h1v1h-1zM6 11h1v1h-1zM17 11h1v1h-1zM20 11h1v1h-1zM33 11h1v1h-1zM11 12h1v1h-1zM15 12h1v1h-1zM31 12h1v1h-1zM17 13h1v1h-1zM22 13h1v1h-1zM4 14h3v1h-3zM25 14h1v1h-1zM17 15h1v1h-1zM22 15h1v1h-1zM29 17h1v1h-1zM22 18h1v1h-1zM26 18h1v1h-1zM34 18h1v1h-1zM0 20h1v1h-1zM11 20h1v1h-1zM18 20h1v1h-1zM29 20h1v1h-1zM6 21h1v1h-1zM11 21h2v1h-2zM14 21h1v1h-1zM34 21h2v1h-2zM6 22h1v1h-1zM13 22h1v1h-1zM25 22h1v1h-1zM37 22h1v1h-1zM3 23h1v1h-1zM19 23h1v1h-1zM35 24h1v1h-1zM4 25h1v1h-1zM17 25h1v1h-1zM21 25h1v1h-1zM26 25h1v1h-1zM32 25h1v1h-1zM34 25h1v1h-1zM31 26h1v1h-1zM2 27h1v1h-1zM6 27h1v1h-1zM15 27h1v1h-1zM0 28h1v1h-1zM38 28h1v1h-1zM34 29h1v1h-1zM36 29h1v1h-1zM2 30h1v1h-1zM17 30h1v1h-1zM25 30h1v1h-1zM0 31h1v1h-1zM18 31h2v1h-2zM21 31h1v1h-1zM39 31h1v1h-1zM29 32h1v1h-1zM32 32h2v1h-2zM36 32h1v1h-1zM33 33h1v1h-1zM5 34h1v1h-1zM27 34h1v1h-1zM26 36h2v1h-2zM1 37h1v1h-1zM8 37h1v1h-1zM12 37h1v1h-1zM9 38h1v1h-1zM38 38h1v1h-1zM4 39h1v1h-1zM8 39h1v1h-1zM21 39h1v1h-1zM29 39h1v1h-1zM32 39h1v1h-1zM7 40h1v1h-1zM25 40h1v1h-1zM30 40h1v1h-1z"/></pattern><pattern id="p3b_2" patternUnits="userSpaceOnUse" width="43" height="43"><path fill="#ffffff" d="M22 0h1v1h-1zM38 0h1v1h-1zM19 1h1v1h-1zM28 1h1v1h-1zM41 1h1v1h-1zM34 2h2v1h-2zM0 3h1v1h-1zM5 3h1v1h-1zM29 3h1v1h-1zM39 3h1v1h-1zM5 4h1v1h-1zM8 4h1v1h-1zM31 4h1v1h-1zM10 5h1v1h-1zM16 5h1v1h-1zM24 5h1v1h-1zM27 5h1v1h-1zM7 6h1v1h-1zM25 6h1v1h-1zM42 6h1v1h-1zM9 7h1v1h-1zM19 7h1v1h-1zM29 7h2v1h-2zM36 7h1v1h-1zM41 7h1v1h-1zM2 8h1v1h-1zM16 8h1v1h-1zM23 8h1v1h-1zM28 8h1v1h-1zM38 8h1v1h-1zM16 9h1v1h-1zM26 9h1v1h-1zM36 9h1v1h-1zM6 10h1v1h-1zM8 10h1v1h-1zM15 10h1v1h-1zM35 10h1v1h-1zM12 11h1v1h-1zM4 12h2v1h-2zM7 12h1v1h-1zM18 12h1v1h-1zM26 12h1v1h-1zM28 12h1v1h-1zM35 12h1v1h-1zM37 12h1v1h-1zM32 13h1v1h-1zM35 13h1v1h-1zM18 14h1v1h-1zM41 14h1v1h-1zM33 15h1v1h-1zM37 15h3v1h-3zM0 17h1v1h-1zM7 17h1v1h-1zM14 17h1v1h-1zM16 17h1v1h-1zM24 17h1v1h-1zM10 18h1v1h-1zM35 18h1v1h-1zM10 19h1v1h-1zM31 19h1v1h-1zM21 20h1v1h-1zM41 20h1v1h-1zM23 21h1v1h-1zM25 21h1v1h-1zM33 21h2v1h-2zM42 21h1v1h-1zM26 23h1v1h-1zM11 24h1v1h-1zM2 25h1v1h-1zM14 25h1v1h-1zM19 25h1v1h-1zM30 25h1v1h-1zM16 26h1v1h-1zM18 26h1v1h-1zM2 27h1v1h-1zM7 27h1v1h-1zM28 27h1v1h-1zM30 27h1v1h-1zM14 28h2v1h-2zM20 28h1v1h-1zM22 29h1v1h-1zM8 30h1v1h-1zM30 30h1v1h-1zM33 30h1v1h-1zM38 30h1v1h-1zM22 31h1v1h-1zM3 32h1v1h-1zM6 32h1v1h-1zM38 32h1v1h-1zM2 33h1v1h-1zM17 33h1v1h-1zM5 34h1v1h-1zM25 34h1v1h-1zM0 35h1v1h-1zM12 35h1v1h-1zM26 35h1v1h-1zM35 35h1v1h-1zM39 35h1v1h-1zM0 36h1v1h-1zM22 36h1v1h-1zM24 37h1v1h-1zM3 38h1v1h-1zM12 38h1v1h-1zM22 38h1v1h-1zM27 38h1v1h-1zM29 38h1v1h-1zM38 38h1v1h-1zM41 38h1v1h-1zM25 40h1v1h-1zM3 41h1v1h-1zM13 41h1v1h-1zM32 42h1v1h-1z"/></pattern><pattern id="p3h_0" patternUnits="userSpaceOnUse" width="37" height="37"><path fill="#080808" d="M0 0h2v1h-2zM6 0h3v1h-3zM13 0h4v1h-4zM22 0h2v1h-2zM25 0h1v1h-1zM28 0h3v1h-3zM33 0h4v1h-4zM3 1h1v1h-1zM6 1h4v1h-4zM12 1h2v1h-2zM16 1h1v1h-1zM19 1h1v1h-1zM21 1h4v1h-4zM31 1h2v1h-2zM6 2h1v1h-1zM10 2h6v1h-6zM18 2h1v1h-1zM23 2h1v1h-1zM26 2h1v1h-1zM29 2h2v1h-2zM36 2h1v1h-1zM0 3h1v1h-1zM2 3h2v1h-2zM5 3h2v1h-2zM9 3h2v1h-2zM12 3h1v1h-1zM15 3h2v1h-2zM18 3h2v1h-2zM23 3h1v1h-1zM27 3h2v1h-2zM30 3h1v1h-1zM32 3h1v1h-1zM34 3h3v1h-3zM0 4h2v1h-2zM3 4h2v1h-2zM8 4h1v1h-1zM10 4h2v1h-2zM13 4h3v1h-3zM17 4h2v1h-2zM20 4h2v1h-2zM26 4h2v1h-2zM29 4h1v1h-1zM34 4h1v1h-1zM0 5h1v1h-1zM3 5h1v1h-1zM6 5h1v1h-1zM8 5h2v1h-2zM11 5h1v1h-1zM15 5h1v1h-1zM17 5h1v1h-1zM20 5h1v1h-1zM22 5h1v1h-1zM24 5h1v1h-1zM27 5h3v1h-3zM31 5h2v1h-2zM34 5h2v1h-2zM0 6h1v1h-1zM4 6h1v1h-1zM7 6h2v1h-2zM15 6h1v1h-1zM17 6h1v1h-1zM23 6h1v1h-1zM26 6h1v1h-1zM28 6h1v1h-1zM30 6h1v1h-1zM34 6h1v1h-1zM0 7h2v1h-2zM4 7h2v1h-2zM7 7h1v1h-1zM11 7h3v1h-3zM15 7h1v1h-1zM23 7h1v1h-1zM26 7h1v1h-1zM28 7h2v1h-2zM31 7h1v1h-1zM35 7h1v1h-1zM0 8h1v1h-1zM2 8h1v1h-1zM7 8h3v1h-3zM11 8h1v1h-1zM14 8h2v1h-2zM19 8h1v1h-1zM21 8h1v1h-1zM30 8h1v1h-1zM34 8h1v1h-1zM36 8h1v1h-1zM0 9h2v1h-2zM4 9h4v1h-4zM9 9h1v1h-1zM11 9h5v1h-5zM17 9h1v1h-1zM22 9h1v1h-1zM24 9h2v1h-2zM35 9h1v1h-1zM2 10h1v1h-1zM4 10h2v1h-2zM9 10h1v1h-1zM12 10h1v1h-1zM14 10h1v1h-1zM24 10h3v1h-3zM28 10h7v1h-7zM3 11h1v1h-1zM5 11h4v1h-4zM12 11h1v1h-1zM15 11h1v1h-1zM17 11h2v1h-2zM25 11h4v1h-4zM32 11h1v1h-1zM34 11h2v1h-2zM0 12h1v1h-1zM6 12h2v1h-2zM9 12h2v1h-2zM12 12h1v1h-1zM14 12h1v1h-1zM22 12h7v1h-7zM31 12h2v1h-2zM35 12h2v1h-2zM1 13h1v1h-1zM4 13h1v1h-1zM6 13h3v1h-3zM10 13h2v1h-2zM13 13h1v1h-1zM16 13h1v1h-1zM22 13h1v1h-1zM30 13h1v1h-1zM32 13h1v1h-1zM35 13h1v1h-1zM3 14h1v1h-1zM5 14h1v1h-1zM7 14h1v1h-1zM10 14h1v1h-1zM13 14h1v1h-1zM16 14h3v1h-3zM21 14h4v1h-4zM31 14h6v1h-6zM1 15h1v1h-1zM3 15h2v1h-2zM7 15h1v1h-1zM9 15h1v1h-1zM12 15h1v1h-1zM18 15h3v1h-3zM22 15h1v1h-1zM26 15h2v1h-2zM30 15h2v1h-2zM33 15h2v1h-2zM0 16h1v1h-1zM2 16h1v1h-1zM7 16h1v1h-1zM11 16h1v1h-1zM16 16h1v1h-1zM19 16h1v1h-1zM24 16h2v1h-2zM27 16h1v1h-1zM30 16h1v1h-1zM32 16h1v1h-1zM2 17h3v1h-3zM7 17h2v1h-2zM10 17h1v1h-1zM12 17h2v1h-2zM21 17h1v1h-1zM23 17h4v1h-4zM29 17h2v1h-2zM35 17h1v1h-1zM0 18h3v1h-3zM5 18h1v1h-1zM7 18h1v1h-1zM9 18h1v1h-1zM13 18h1v1h-1zM17 18h1v1h-1zM21 18h1v1h-1zM25 18h2v1h-2zM28 18h1v1h-1zM30 18h2v1h-2zM33 18h2v1h-2zM1 19h1v1h-1zM3 19h2v1h-2zM7 19h1v1h-1zM12 19h1v1h-1zM14 19h1v1h-1zM18 19h1v1h-1zM20 19h1v1h-1zM24 19h4v1h-4zM29 19h1v1h-1zM33 19h2v1h-2zM36 19h1v1h-1zM2 20h1v1h-1zM4 20h1v1h-1zM8 20h3v1h-3zM12 20h1v1h-1zM14 20h3v1h-3zM19 20h1v1h-1zM21 20h3v1h-3zM25 20h2v1h-2zM29 20h1v1h-1zM31 20h1v1h-1zM33 20h1v1h-1zM36 20h1v1h-1zM0 21h1v1h-1zM2 21h3v1h-3zM6 21h2v1h-2zM9 21h1v1h-1zM11 21h1v1h-1zM13 21h5v1h-5zM20 21h1v1h-1zM23 21h1v1h-1zM25 21h1v1h-1zM29 21h1v1h-1zM31 21h2v1h-2zM35 21h2v1h-2zM1 22h1v1h-1zM6 22h3v1h-3zM10 22h1v1h-1zM16 22h1v1h-1zM18 22h1v1h-1zM20 22h1v1h-1zM22 22h2v1h-2zM27 22h1v1h-1zM34 22h1v1h-1zM36 22h1v1h-1zM3 23h2v1h-2zM9 23h5v1h-5zM16 23h1v1h-1zM19 23h2v1h-2zM22 23h4v1h-4zM27 23h2v1h-2zM31 23h2v1h-2zM35 23h1v1h-1zM4 24h1v1h-1zM8 24h3v1h-3zM14 24h3v1h-3zM18 24h2v1h-2zM23 24h1v1h-1zM25 24h2v1h-2zM29 24h1v1h-1zM36 24h1v1h-1zM1 25h4v1h-4zM6 25h1v1h-1zM13 25h3v1h-3zM17 25h2v1h-2zM20 25h2v1h-2zM23 25h1v1h-1zM25 25h1v1h-1zM27 25h2v1h-2zM31 25h1v1h-1zM34 25h2v1h-2zM7 26h2v1h-2zM10 26h1v1h-1zM14 26h1v1h-1zM16 26h3v1h-3zM22 26h1v1h-1zM25 26h2v1h-2zM31 26h1v1h-1zM33 26h1v1h-1zM35 26h2v1h-2zM2 27h2v1h-2zM6 27h1v1h-1zM9 27h1v1h-1zM11 27h2v1h-2zM15 27h2v1h-2zM18 27h4v1h-4zM24 27h3v1h-3zM30 27h1v1h-1zM32 27h1v1h-1zM34 27h2v1h-2zM3 28h1v1h-1zM9 28h6v1h-6zM18 28h1v1h-1zM21 28h3v1h-3zM26 28h1v1h-1zM30 28h5v1h-5zM0 29h1v1h-1zM10 29h1v1h-1zM12 29h5v1h-5zM18 29h2v1h-2zM22 29h2v1h-2zM25 29h2v1h-2zM36 29h1v1h-1zM0 30h1v1h-1zM3 30h2v1h-2zM7 30h1v1h-1zM9 30h2v1h-2zM12 30h2v1h-2zM16 30h5v1h-5zM25 30h1v1h-1zM28 30h1v1h-1zM31 30h1v1h-1zM33 30h2v1h-2zM2 31h1v1h-1zM5 31h4v1h-4zM10 31h2v1h-2zM14 31h2v1h-2zM17 31h1v1h-1zM20 31h1v1h-1zM23 31h4v1h-4zM32 31h2v1h-2zM36 31h1v1h-1zM4 32h2v1h-2zM7 32h2v1h-2zM12 32h4v1h-4zM21 32h1v1h-1zM23 32h1v1h-1zM28 32h1v1h-1zM30 32h1v1h-1zM33 32h1v1h-1zM35 32h1v1h-1zM1 33h1v1h-1zM4 33h3v1h-3zM11 33h2v1h-2zM15 33h3v1h-3zM19 33h2v1h-2zM22 33h3v1h-3zM26 33h1v1h-1zM29 33h2v1h-2zM32 33h1v1h-1zM34 33h2v1h-2zM0 34h1v1h-1zM2 34h1v1h-1zM6 34h2v1h-2zM10 34h2v1h-2zM13 34h2v1h-2zM19 34h3v1h-3zM23 34h1v1h-1zM26 34h1v1h-1zM30 34h1v1h-1zM32 34h3v1h-3zM0 35h1v1h-1zM2 35h3v1h-3zM6 35h3v1h-3zM15 35h3v1h-3zM19 35h1v1h-1zM21 35h1v1h-1zM24 35h1v1h-1zM26 35h1v1h-1zM30 35h4v1h-4zM35 35h2v1h-2zM4 36h3v1h-3zM8 36h1v1h-1zM10 36h1v1h-1zM12 36h1v1h-1zM14 36h6v1h-6zM23 36h1v1h-1zM26 36h2v1h-2zM30 36h1v1h-1zM32 36h1v1h-1zM34 36h3v1h-3z"/></pattern><pattern id="p3h_1" patternUnits="userSpaceOnUse" width="41" height="41"><path fill="#080808" d="M1 0h1v1h-1zM14 0h1v1h-1zM21 0h2v1h-2zM24 0h3v1h-3zM30 0h1v1h-1zM32 0h1v1h-1zM35 0h3v1h-3zM1 1h4v1h-4zM6 1h1v1h-1zM10 1h1v1h-1zM12 1h1v1h-1zM25 1h1v1h-1zM30 1h2v1h-2zM35 1h1v1h-1zM40 1h1v1h-1zM3 2h1v1h-1zM7 2h1v1h-1zM10 2h1v1h-1zM14 2h1v1h-1zM20 2h1v1h-1zM31 2h1v1h-1zM35 2h3v1h-3zM0 3h1v1h-1zM3 3h1v1h-1zM5 3h2v1h-2zM8 3h1v1h-1zM10 3h3v1h-3zM14 3h2v1h-2zM19 3h1v1h-1zM22 3h1v1h-1zM28 3h1v1h-1zM34 3h1v1h-1zM36 3h1v1h-1zM40 3h1v1h-1zM1 4h1v1h-1zM6 4h1v1h-1zM11 4h1v1h-1zM13 4h2v1h-2zM19 4h1v1h-1zM21 4h1v1h-1zM24 4h1v1h-1zM26 4h1v1h-1zM29 4h1v1h-1zM31 4h1v1h-1zM38 4h1v1h-1zM2 5h1v1h-1zM4 5h1v1h-1zM13 5h1v1h-1zM15 5h1v1h-1zM17 5h1v1h-1zM26 5h2v1h-2zM29 5h2v1h-2zM40 5h1v1h-1zM1 6h1v1h-1zM5 6h1v1h-1zM7 6h1v1h-1zM9 6h1v1h-1zM18 6h2v1h-2zM22 6h1v1h-1zM24 6h1v1h-1zM28 6h1v1h-1zM32 6h1v1h-1zM36 6h2v1h-2zM39 6h2v1h-2zM9 7h1v1h-1zM15 7h1v1h-1zM20 7h1v1h-1zM23 7h1v1h-1zM26 7h1v1h-1zM28 7h2v1h-2zM32 7h1v1h-1zM36 7h1v1h-1zM40 7h1v1h-1zM1 8h3v1h-3zM6 8h2v1h-2zM12 8h1v1h-1zM14 8h1v1h-1zM16 8h2v1h-2zM19 8h1v1h-1zM21 8h1v1h-1zM25 8h1v1h-1zM28 8h1v1h-1zM30 8h1v1h-1zM34 8h3v1h-3zM3 9h1v1h-1zM7 9h1v1h-1zM9 9h1v1h-1zM15 9h1v1h-1zM20 9h3v1h-3zM24 9h2v1h-2zM27 9h2v1h-2zM30 9h1v1h-1zM36 9h2v1h-2zM0 10h4v1h-4zM5 10h1v1h-1zM7 10h2v1h-2zM10 10h1v1h-1zM13 10h1v1h-1zM16 10h1v1h-1zM19 10h2v1h-2zM24 10h1v1h-1zM31 10h2v1h-2zM36 10h1v1h-1zM38 10h1v1h-1zM40 10h1v1h-1zM2 11h1v1h-1zM5 11h1v1h-1zM7 11h1v1h-1zM10 11h3v1h-3zM14 11h1v1h-1zM16 11h1v1h-1zM20 11h1v1h-1zM30 11h2v1h-2zM37 11h1v1h-1zM1 12h1v1h-1zM4 12h2v1h-2zM8 12h1v1h-1zM10 12h1v1h-1zM21 12h1v1h-1zM25 12h2v1h-2zM30 12h4v1h-4zM36 12h2v1h-2zM2 13h4v1h-4zM9 13h1v1h-1zM14 13h1v1h-1zM24 13h1v1h-1zM28 13h1v1h-1zM34 13h1v1h-1zM0 14h1v1h-1zM5 14h1v1h-1zM9 14h3v1h-3zM13 14h1v1h-1zM15 14h1v1h-1zM20 14h1v1h-1zM26 14h1v1h-1zM36 14h1v1h-1zM2 15h1v1h-1zM13 15h1v1h-1zM23 15h1v1h-1zM27 15h2v1h-2zM36 15h1v1h-1zM1 16h1v1h-1zM5 16h4v1h-4zM13 16h2v1h-2zM22 16h1v1h-1zM25 16h1v1h-1zM36 16h2v1h-2zM39 16h2v1h-2zM3 17h1v1h-1zM5 17h1v1h-1zM8 17h1v1h-1zM19 17h2v1h-2zM22 17h2v1h-2zM26 17h1v1h-1zM35 17h2v1h-2zM38 17h1v1h-1zM0 18h1v1h-1zM2 18h1v1h-1zM7 18h1v1h-1zM9 18h1v1h-1zM12 18h1v1h-1zM14 18h1v1h-1zM23 18h1v1h-1zM28 18h1v1h-1zM32 18h2v1h-2zM35 18h1v1h-1zM39 18h2v1h-2zM0 19h1v1h-1zM4 19h4v1h-4zM13 19h1v1h-1zM16 19h1v1h-1zM18 19h1v1h-1zM22 19h1v1h-1zM26 19h1v1h-1zM28 19h1v1h-1zM32 19h2v1h-2zM38 19h2v1h-2zM1 20h1v1h-1zM9 20h1v1h-1zM11 20h3v1h-3zM17 20h2v1h-2zM30 20h1v1h-1zM32 20h2v1h-2zM36 20h1v1h-1zM4 21h2v1h-2zM11 21h2v1h-2zM14 21h1v1h-1zM17 21h2v1h-2zM25 21h1v1h-1zM29 21h1v1h-1zM32 21h2v1h-2zM37 21h1v1h-1zM40 21h1v1h-1zM3 22h1v1h-1zM7 22h1v1h-1zM9 22h1v1h-1zM11 22h1v1h-1zM16 22h1v1h-1zM21 22h1v1h-1zM23 22h1v1h-1zM31 22h1v1h-1zM0 23h1v1h-1zM2 23h1v1h-1zM6 23h2v1h-2zM11 23h1v1h-1zM16 23h1v1h-1zM19 23h2v1h-2zM26 23h1v1h-1zM30 23h1v1h-1zM35 23h3v1h-3zM40 23h1v1h-1zM4 24h1v1h-1zM6 24h1v1h-1zM9 24h1v1h-1zM13 24h1v1h-1zM15 24h2v1h-2zM19 24h1v1h-1zM28 24h1v1h-1zM34 24h2v1h-2zM37 24h1v1h-1zM40 24h1v1h-1zM0 25h2v1h-2zM4 25h1v1h-1zM6 25h3v1h-3zM10 25h1v1h-1zM13 25h3v1h-3zM19 25h1v1h-1zM21 25h1v1h-1zM26 25h1v1h-1zM29 25h1v1h-1zM33 25h3v1h-3zM2 26h2v1h-2zM7 26h1v1h-1zM10 26h1v1h-1zM13 26h1v1h-1zM15 26h1v1h-1zM17 26h1v1h-1zM20 26h1v1h-1zM24 26h1v1h-1zM26 26h1v1h-1zM2 27h1v1h-1zM4 27h1v1h-1zM11 27h2v1h-2zM19 27h2v1h-2zM23 27h1v1h-1zM33 27h1v1h-1zM36 27h1v1h-1zM39 27h2v1h-2zM1 28h2v1h-2zM9 28h1v1h-1zM11 28h3v1h-3zM16 28h2v1h-2zM24 28h1v1h-1zM28 28h1v1h-1zM30 28h2v1h-2zM40 28h1v1h-1zM0 29h1v1h-1zM4 29h2v1h-2zM7 29h1v1h-1zM10 29h2v1h-2zM18 29h2v1h-2zM27 29h1v1h-1zM31 29h4v1h-4zM37 29h1v1h-1zM39 29h1v1h-1zM2 30h3v1h-3zM14 30h1v1h-1zM16 30h2v1h-2zM21 30h1v1h-1zM29 30h1v1h-1zM37 30h1v1h-1zM0 31h1v1h-1zM2 31h1v1h-1zM10 31h1v1h-1zM13 31h2v1h-2zM16 31h1v1h-1zM18 31h2v1h-2zM21 31h2v1h-2zM27 31h2v1h-2zM32 31h3v1h-3zM4 32h1v1h-1zM6 32h2v1h-2zM14 32h1v1h-1zM21 32h2v1h-2zM31 32h1v1h-1zM39 32h1v1h-1zM6 33h1v1h-1zM18 33h1v1h-1zM21 33h3v1h-3zM26 33h1v1h-1zM29 33h1v1h-1zM34 33h1v1h-1zM39 33h1v1h-1zM0 34h1v1h-1zM2 34h1v1h-1zM9 34h5v1h-5zM20 34h1v1h-1zM29 34h1v1h-1zM31 34h1v1h-1zM33 34h1v1h-1zM37 34h1v1h-1zM40 34h1v1h-1zM2 35h1v1h-1zM8 35h1v1h-1zM10 35h2v1h-2zM19 35h1v1h-1zM26 35h1v1h-1zM35 35h1v1h-1zM38 35h1v1h-1zM6 36h1v1h-1zM9 36h1v1h-1zM13 36h1v1h-1zM20 36h1v1h-1zM23 36h1v1h-1zM25 36h6v1h-6zM35 36h1v1h-1zM38 36h1v1h-1zM40 36h1v1h-1zM4 37h1v1h-1zM8 37h1v1h-1zM11 37h1v1h-1zM13 37h1v1h-1zM16 37h1v1h-1zM18 37h1v1h-1zM22 37h1v1h-1zM28 37h1v1h-1zM30 37h1v1h-1zM32 37h1v1h-1zM38 37h2v1h-2zM0 38h1v1h-1zM3 38h1v1h-1zM5 38h2v1h-2zM9 38h4v1h-4zM17 38h1v1h-1zM19 38h1v1h-1zM31 38h1v1h-1zM34 38h1v1h-1zM37 38h1v1h-1zM3 39h1v1h-1zM11 39h1v1h-1zM15 39h4v1h-4zM21 39h2v1h-2zM25 39h2v1h-2zM29 39h3v1h-3zM35 39h1v1h-1zM40 39h1v1h-1zM7 40h1v1h-1zM16 40h2v1h-2zM19 40h3v1h-3zM23 40h1v1h-1zM25 40h1v1h-1zM28 40h1v1h-1zM30 40h1v1h-1zM39 40h2v1h-2z"/></pattern><pattern id="pmh_0" patternUnits="userSpaceOnUse" width="37" height="37"><path fill="#ffffff" d="M0 0h2v1h-2zM5 0h3v1h-3zM11 0h1v1h-1zM13 0h3v1h-3zM17 0h2v1h-2zM20 0h1v1h-1zM25 0h1v1h-1zM27 0h1v1h-1zM29 0h1v1h-1zM33 0h4v1h-4zM1 1h1v1h-1zM4 1h2v1h-2zM8 1h1v1h-1zM10 1h1v1h-1zM12 1h1v1h-1zM14 1h3v1h-3zM18 1h1v1h-1zM20 1h3v1h-3zM24 1h3v1h-3zM28 1h1v1h-1zM30 1h1v1h-1zM32 1h2v1h-2zM2 2h2v1h-2zM5 2h1v1h-1zM7 2h1v1h-1zM11 2h2v1h-2zM19 2h1v1h-1zM22 2h1v1h-1zM28 2h2v1h-2zM32 2h1v1h-1zM34 2h1v1h-1zM0 3h4v1h-4zM7 3h4v1h-4zM12 3h2v1h-2zM15 3h1v1h-1zM27 3h1v1h-1zM32 3h3v1h-3zM5 4h1v1h-1zM7 4h1v1h-1zM11 4h2v1h-2zM17 4h2v1h-2zM21 4h1v1h-1zM23 4h1v1h-1zM25 4h1v1h-1zM30 4h2v1h-2zM34 4h1v1h-1zM36 4h1v1h-1zM1 5h1v1h-1zM13 5h2v1h-2zM18 5h2v1h-2zM21 5h1v1h-1zM23 5h1v1h-1zM25 5h1v1h-1zM27 5h1v1h-1zM29 5h2v1h-2zM1 6h2v1h-2zM4 6h1v1h-1zM6 6h2v1h-2zM10 6h1v1h-1zM14 6h2v1h-2zM20 6h2v1h-2zM23 6h2v1h-2zM27 6h1v1h-1zM30 6h1v1h-1zM35 6h2v1h-2zM0 7h1v1h-1zM2 7h2v1h-2zM5 7h1v1h-1zM9 7h1v1h-1zM12 7h2v1h-2zM16 7h1v1h-1zM19 7h1v1h-1zM21 7h2v1h-2zM28 7h1v1h-1zM31 7h2v1h-2zM1 8h1v1h-1zM11 8h1v1h-1zM13 8h2v1h-2zM17 8h2v1h-2zM21 8h1v1h-1zM24 8h1v1h-1zM29 8h1v1h-1zM32 8h1v1h-1zM34 8h3v1h-3zM1 9h1v1h-1zM3 9h1v1h-1zM5 9h2v1h-2zM9 9h3v1h-3zM13 9h1v1h-1zM19 9h2v1h-2zM24 9h5v1h-5zM31 9h1v1h-1zM3 10h2v1h-2zM6 10h1v1h-1zM10 10h3v1h-3zM14 10h3v1h-3zM19 10h2v1h-2zM24 10h1v1h-1zM33 10h2v1h-2zM1 11h1v1h-1zM5 11h2v1h-2zM8 11h1v1h-1zM10 11h1v1h-1zM13 11h1v1h-1zM15 11h1v1h-1zM17 11h3v1h-3zM23 11h2v1h-2zM29 11h2v1h-2zM32 11h3v1h-3zM3 12h1v1h-1zM6 12h2v1h-2zM13 12h3v1h-3zM17 12h2v1h-2zM23 12h4v1h-4zM28 12h1v1h-1zM30 12h3v1h-3zM34 12h1v1h-1zM36 12h1v1h-1zM0 13h1v1h-1zM2 13h1v1h-1zM8 13h1v1h-1zM10 13h2v1h-2zM13 13h1v1h-1zM17 13h3v1h-3zM21 13h1v1h-1zM25 13h1v1h-1zM27 13h1v1h-1zM32 13h2v1h-2zM0 14h1v1h-1zM4 14h1v1h-1zM6 14h1v1h-1zM11 14h1v1h-1zM13 14h1v1h-1zM17 14h2v1h-2zM24 14h1v1h-1zM28 14h1v1h-1zM32 14h1v1h-1zM35 14h1v1h-1zM1 15h2v1h-2zM9 15h2v1h-2zM12 15h3v1h-3zM16 15h2v1h-2zM19 15h1v1h-1zM21 15h3v1h-3zM25 15h1v1h-1zM28 15h2v1h-2zM34 15h3v1h-3zM1 16h1v1h-1zM3 16h1v1h-1zM9 16h1v1h-1zM11 16h1v1h-1zM14 16h2v1h-2zM18 16h3v1h-3zM22 16h2v1h-2zM25 16h1v1h-1zM27 16h1v1h-1zM32 16h2v1h-2zM35 16h2v1h-2zM1 17h1v1h-1zM3 17h3v1h-3zM7 17h1v1h-1zM10 17h2v1h-2zM13 17h1v1h-1zM18 17h1v1h-1zM20 17h1v1h-1zM26 17h1v1h-1zM30 17h1v1h-1zM32 17h4v1h-4zM2 18h1v1h-1zM4 18h1v1h-1zM9 18h1v1h-1zM11 18h1v1h-1zM13 18h1v1h-1zM15 18h2v1h-2zM19 18h2v1h-2zM24 18h1v1h-1zM28 18h2v1h-2zM31 18h1v1h-1zM1 19h1v1h-1zM3 19h1v1h-1zM6 19h2v1h-2zM10 19h1v1h-1zM14 19h1v1h-1zM23 19h1v1h-1zM27 19h1v1h-1zM32 19h1v1h-1zM34 19h2v1h-2zM0 20h1v1h-1zM2 20h1v1h-1zM5 20h3v1h-3zM9 20h1v1h-1zM11 20h1v1h-1zM14 20h1v1h-1zM20 20h1v1h-1zM22 20h1v1h-1zM29 20h4v1h-4zM34 20h1v1h-1zM3 21h1v1h-1zM5 21h1v1h-1zM8 21h3v1h-3zM12 21h1v1h-1zM15 21h1v1h-1zM20 21h1v1h-1zM22 21h3v1h-3zM29 21h3v1h-3zM0 22h3v1h-3zM4 22h1v1h-1zM8 22h1v1h-1zM11 22h1v1h-1zM18 22h1v1h-1zM22 22h1v1h-1zM29 22h4v1h-4zM0 23h1v1h-1zM4 23h1v1h-1zM9 23h2v1h-2zM19 23h1v1h-1zM21 23h1v1h-1zM23 23h1v1h-1zM25 23h2v1h-2zM29 23h2v1h-2zM32 23h3v1h-3zM36 23h1v1h-1zM1 24h1v1h-1zM11 24h1v1h-1zM25 24h2v1h-2zM35 24h1v1h-1zM1 25h4v1h-4zM8 25h1v1h-1zM13 25h1v1h-1zM15 25h1v1h-1zM24 25h2v1h-2zM27 25h1v1h-1zM29 25h2v1h-2zM32 25h1v1h-1zM1 26h1v1h-1zM4 26h1v1h-1zM12 26h1v1h-1zM14 26h1v1h-1zM17 26h1v1h-1zM19 26h2v1h-2zM23 26h1v1h-1zM30 26h1v1h-1zM32 26h1v1h-1zM5 27h1v1h-1zM15 27h1v1h-1zM18 27h1v1h-1zM20 27h1v1h-1zM22 27h3v1h-3zM26 27h1v1h-1zM29 27h4v1h-4zM34 27h2v1h-2zM3 28h2v1h-2zM8 28h1v1h-1zM12 28h1v1h-1zM20 28h5v1h-5zM26 28h1v1h-1zM30 28h1v1h-1zM33 28h1v1h-1zM36 28h1v1h-1zM0 29h2v1h-2zM3 29h1v1h-1zM8 29h2v1h-2zM12 29h1v1h-1zM14 29h2v1h-2zM17 29h3v1h-3zM22 29h1v1h-1zM24 29h1v1h-1zM26 29h1v1h-1zM30 29h5v1h-5zM1 30h2v1h-2zM5 30h2v1h-2zM14 30h2v1h-2zM17 30h1v1h-1zM19 30h3v1h-3zM24 30h2v1h-2zM28 30h1v1h-1zM30 30h1v1h-1zM33 30h4v1h-4zM1 31h2v1h-2zM6 31h1v1h-1zM8 31h1v1h-1zM16 31h1v1h-1zM18 31h2v1h-2zM21 31h2v1h-2zM26 31h1v1h-1zM28 31h6v1h-6zM35 31h2v1h-2zM3 32h2v1h-2zM6 32h1v1h-1zM12 32h4v1h-4zM21 32h1v1h-1zM24 32h6v1h-6zM31 32h1v1h-1zM0 33h1v1h-1zM2 33h3v1h-3zM6 33h3v1h-3zM12 33h1v1h-1zM15 33h1v1h-1zM17 33h1v1h-1zM20 33h2v1h-2zM23 33h1v1h-1zM29 33h2v1h-2zM33 33h4v1h-4zM1 34h4v1h-4zM6 34h3v1h-3zM11 34h3v1h-3zM17 34h1v1h-1zM19 34h1v1h-1zM23 34h2v1h-2zM27 34h4v1h-4zM33 34h1v1h-1zM36 34h1v1h-1zM0 35h2v1h-2zM4 35h1v1h-1zM10 35h1v1h-1zM15 35h4v1h-4zM21 35h1v1h-1zM25 35h4v1h-4zM31 35h1v1h-1zM33 35h1v1h-1zM0 36h1v1h-1zM2 36h3v1h-3zM6 36h3v1h-3zM12 36h1v1h-1zM15 36h1v1h-1zM19 36h1v1h-1zM22 36h1v1h-1zM25 36h1v1h-1zM27 36h1v1h-1zM30 36h3v1h-3zM35 36h1v1h-1z"/></pattern><pattern id="pmh_1" patternUnits="userSpaceOnUse" width="41" height="41"><path fill="#ffffff" d="M6 0h1v1h-1zM19 0h2v1h-2zM23 0h1v1h-1zM33 0h1v1h-1zM36 0h2v1h-2zM1 1h2v1h-2zM15 1h2v1h-2zM21 1h1v1h-1zM23 1h1v1h-1zM28 1h2v1h-2zM31 1h2v1h-2zM35 1h1v1h-1zM37 1h1v1h-1zM39 1h1v1h-1zM0 2h3v1h-3zM19 2h2v1h-2zM22 2h2v1h-2zM25 2h1v1h-1zM28 2h1v1h-1zM32 2h3v1h-3zM1 3h2v1h-2zM7 3h1v1h-1zM9 3h1v1h-1zM13 3h1v1h-1zM22 3h1v1h-1zM24 3h1v1h-1zM28 3h1v1h-1zM30 3h1v1h-1zM40 3h1v1h-1zM15 4h1v1h-1zM18 4h1v1h-1zM20 4h1v1h-1zM27 4h1v1h-1zM30 4h1v1h-1zM40 4h1v1h-1zM0 5h1v1h-1zM5 5h1v1h-1zM7 5h1v1h-1zM12 5h1v1h-1zM17 5h2v1h-2zM20 5h1v1h-1zM35 5h2v1h-2zM38 5h2v1h-2zM5 6h1v1h-1zM9 6h2v1h-2zM16 6h1v1h-1zM18 6h1v1h-1zM21 6h3v1h-3zM26 6h1v1h-1zM29 6h1v1h-1zM34 6h2v1h-2zM38 6h1v1h-1zM9 7h1v1h-1zM19 7h2v1h-2zM27 7h3v1h-3zM33 7h1v1h-1zM1 8h2v1h-2zM6 8h1v1h-1zM8 8h2v1h-2zM14 8h1v1h-1zM18 8h2v1h-2zM21 8h1v1h-1zM27 8h1v1h-1zM31 8h1v1h-1zM40 8h1v1h-1zM4 9h2v1h-2zM9 9h1v1h-1zM11 9h1v1h-1zM16 9h1v1h-1zM22 9h1v1h-1zM24 9h1v1h-1zM26 9h2v1h-2zM32 9h1v1h-1zM4 10h1v1h-1zM6 10h1v1h-1zM9 10h1v1h-1zM11 10h1v1h-1zM16 10h1v1h-1zM24 10h1v1h-1zM26 10h1v1h-1zM29 10h1v1h-1zM32 10h2v1h-2zM35 10h1v1h-1zM37 10h2v1h-2zM3 11h2v1h-2zM11 11h1v1h-1zM13 11h2v1h-2zM16 11h1v1h-1zM18 11h1v1h-1zM21 11h1v1h-1zM23 11h1v1h-1zM29 11h1v1h-1zM36 11h1v1h-1zM0 12h1v1h-1zM3 12h3v1h-3zM9 12h1v1h-1zM11 12h1v1h-1zM18 12h1v1h-1zM21 12h2v1h-2zM24 12h1v1h-1zM28 12h1v1h-1zM34 12h3v1h-3zM40 12h1v1h-1zM1 13h1v1h-1zM3 13h1v1h-1zM8 13h2v1h-2zM18 13h1v1h-1zM22 13h1v1h-1zM40 13h1v1h-1zM1 14h1v1h-1zM6 14h4v1h-4zM11 14h1v1h-1zM15 14h1v1h-1zM25 14h1v1h-1zM31 14h1v1h-1zM33 14h1v1h-1zM36 14h1v1h-1zM38 14h1v1h-1zM1 15h2v1h-2zM10 15h4v1h-4zM24 15h1v1h-1zM2 16h1v1h-1zM8 16h3v1h-3zM14 16h1v1h-1zM25 16h1v1h-1zM39 16h1v1h-1zM9 17h2v1h-2zM14 17h1v1h-1zM16 17h1v1h-1zM18 17h1v1h-1zM20 17h1v1h-1zM22 17h3v1h-3zM27 17h1v1h-1zM39 17h1v1h-1zM2 18h2v1h-2zM9 18h1v1h-1zM15 18h1v1h-1zM17 18h2v1h-2zM32 18h1v1h-1zM34 18h1v1h-1zM37 18h1v1h-1zM40 18h1v1h-1zM0 19h2v1h-2zM3 19h4v1h-4zM12 19h1v1h-1zM16 19h2v1h-2zM24 19h1v1h-1zM26 19h1v1h-1zM32 19h1v1h-1zM34 19h1v1h-1zM0 20h1v1h-1zM8 20h1v1h-1zM11 20h2v1h-2zM15 20h1v1h-1zM17 20h1v1h-1zM20 20h1v1h-1zM25 20h1v1h-1zM28 20h1v1h-1zM33 20h1v1h-1zM35 20h1v1h-1zM38 20h1v1h-1zM40 20h1v1h-1zM2 21h1v1h-1zM4 21h1v1h-1zM6 21h1v1h-1zM10 21h1v1h-1zM12 21h1v1h-1zM15 21h2v1h-2zM21 21h1v1h-1zM23 21h1v1h-1zM25 21h1v1h-1zM28 21h1v1h-1zM32 21h1v1h-1zM35 21h1v1h-1zM37 21h1v1h-1zM39 21h2v1h-2zM11 22h1v1h-1zM16 22h2v1h-2zM19 22h2v1h-2zM23 22h1v1h-1zM25 22h3v1h-3zM29 22h2v1h-2zM32 22h1v1h-1zM37 22h1v1h-1zM7 23h2v1h-2zM10 23h1v1h-1zM13 23h1v1h-1zM22 23h1v1h-1zM26 23h2v1h-2zM32 23h1v1h-1zM34 23h3v1h-3zM38 23h1v1h-1zM0 24h1v1h-1zM14 24h3v1h-3zM19 24h1v1h-1zM26 24h1v1h-1zM28 24h2v1h-2zM36 24h1v1h-1zM0 25h1v1h-1zM8 25h3v1h-3zM18 25h1v1h-1zM20 25h1v1h-1zM25 25h1v1h-1zM27 25h2v1h-2zM30 25h1v1h-1zM32 25h1v1h-1zM34 25h1v1h-1zM40 25h1v1h-1zM6 26h1v1h-1zM12 26h1v1h-1zM14 26h1v1h-1zM18 26h1v1h-1zM21 26h1v1h-1zM23 26h2v1h-2zM26 26h1v1h-1zM29 26h1v1h-1zM36 26h1v1h-1zM39 26h2v1h-2zM8 27h1v1h-1zM12 27h1v1h-1zM19 27h2v1h-2zM27 27h1v1h-1zM29 27h1v1h-1zM34 27h1v1h-1zM1 28h1v1h-1zM5 28h2v1h-2zM23 28h1v1h-1zM29 28h1v1h-1zM33 28h1v1h-1zM2 29h1v1h-1zM6 29h1v1h-1zM8 29h1v1h-1zM15 29h1v1h-1zM20 29h2v1h-2zM24 29h1v1h-1zM35 29h1v1h-1zM37 29h2v1h-2zM0 30h2v1h-2zM3 30h1v1h-1zM7 30h1v1h-1zM10 30h1v1h-1zM13 30h1v1h-1zM16 30h1v1h-1zM32 30h3v1h-3zM0 31h1v1h-1zM4 31h1v1h-1zM6 31h1v1h-1zM9 31h1v1h-1zM20 31h1v1h-1zM24 31h1v1h-1zM26 31h1v1h-1zM29 31h1v1h-1zM32 31h1v1h-1zM35 31h1v1h-1zM4 32h2v1h-2zM10 32h1v1h-1zM19 32h1v1h-1zM21 32h1v1h-1zM26 32h1v1h-1zM32 32h1v1h-1zM36 32h1v1h-1zM40 32h1v1h-1zM2 33h1v1h-1zM5 33h2v1h-2zM13 33h1v1h-1zM17 33h2v1h-2zM20 33h1v1h-1zM24 33h1v1h-1zM35 33h1v1h-1zM2 34h1v1h-1zM7 34h2v1h-2zM10 34h3v1h-3zM15 34h1v1h-1zM22 34h1v1h-1zM24 34h1v1h-1zM35 34h3v1h-3zM40 34h1v1h-1zM11 35h1v1h-1zM13 35h1v1h-1zM15 35h1v1h-1zM17 35h1v1h-1zM19 35h1v1h-1zM24 35h1v1h-1zM28 35h2v1h-2zM32 35h4v1h-4zM38 35h1v1h-1zM6 36h2v1h-2zM9 36h1v1h-1zM11 36h1v1h-1zM13 36h2v1h-2zM19 36h1v1h-1zM24 36h1v1h-1zM28 36h2v1h-2zM7 37h1v1h-1zM18 37h1v1h-1zM21 37h1v1h-1zM33 37h1v1h-1zM37 37h1v1h-1zM0 38h1v1h-1zM5 38h2v1h-2zM11 38h1v1h-1zM17 38h1v1h-1zM20 38h1v1h-1zM30 38h1v1h-1zM33 38h1v1h-1zM37 38h1v1h-1zM39 38h2v1h-2zM1 39h1v1h-1zM9 39h1v1h-1zM11 39h1v1h-1zM14 39h2v1h-2zM17 39h1v1h-1zM26 39h1v1h-1zM30 39h1v1h-1zM32 39h1v1h-1zM38 39h1v1h-1zM40 39h1v1h-1zM0 40h1v1h-1zM16 40h1v1h-1zM18 40h2v1h-2zM23 40h1v1h-1zM27 40h1v1h-1zM29 40h1v1h-1zM37 40h1v1h-1z"/></pattern><path id="leaf" d="M74.7 2.1L76.4 3.4L79.3 6.9L83.9 14.9L90.7 23L97.6 27.6L106.8 35L116 37L120.6 39.6L126 44.2L132.9 52.8L143.2 62.6L153.6 66L157 64.9L169.6 52.8L175.4 50L183.4 47.1L193.8 43.1L197.8 39.6L207 39.3L206.4 42.5L204.1 51.7L202.4 57.4L202.4 66.6L204.1 75.8L205.3 86.1L208.7 94.2L209.6 98.8L208.5 108L206.4 114.9L205.3 120.6L204.1 124.7L207.6 129.8L212.1 135.6L217.9 141.9L224.8 147.1L230 149.9L229.4 152.2L224.8 156.2L217.9 159.7L213.3 163.1L206.4 166.6L197.2 169.5L186.9 171.7L178.8 172.3L169.6 171.7L160.5 170.6L154.1 170L155.3 176L158.5 186L162 196L165.6 205.6L165.6 210.2L162.8 210.2L159 201L155.3 195.3L152.5 185L150.7 176.9L147.8 172.9L139.8 180.4L132.9 187.3L126 193L120.6 194.7L110.3 198.7L101.1 201L90.2 201L88.4 195.3L87.3 186.1L85.6 178.6L78.1 176.3L66.6 174L58.6 170.6L51.7 165.4L49.4 160.3L39.1 151.6L29.9 142.5L23 139L16.1 134.4L14 130.4L16.1 128.1L23 126.4L26.4 123.5L34.5 120.1L41.4 116L49.4 111.4L57.4 108L59.2 107.4L62.9 101.1L62 91.9L60.3 80.4L60.3 68.9L60.9 62.6L64.9 58.6L68.9 50.5L74.9 39.1L74.1 23L72.9 11.5L70.3 9.2L72.4 4.6Z"/><path id="leafns" d="M74.7 2.1L76.4 3.4L79.3 6.9L83.9 14.9L90.7 23L97.6 27.6L106.8 35L116 37L120.6 39.6L126 44.2L132.9 52.8L143.2 62.6L153.6 66L157 64.9L169.6 52.8L175.4 50L183.4 47.1L193.8 43.1L197.8 39.6L207 39.3L206.4 42.5L204.1 51.7L202.4 57.4L202.4 66.6L204.1 75.8L205.3 86.1L208.7 94.2L209.6 98.8L208.5 108L206.4 114.9L205.3 120.6L204.1 124.7L207.6 129.8L212.1 135.6L217.9 141.9L224.8 147.1L230 149.9L229.4 152.2L224.8 156.2L217.9 159.7L213.3 163.1L206.4 166.6L197.2 169.5L186.9 171.7L178.8 172.3L169.6 171.7L160.5 170.6L154.1 170L139.8 180.4L132.9 187.3L126 193L120.6 194.7L110.3 198.7L101.1 201L90.2 201L88.4 195.3L87.3 186.1L85.6 178.6L78.1 176.3L66.6 174L58.6 170.6L51.7 165.4L49.4 160.3L39.1 151.6L29.9 142.5L23 139L16.1 134.4L14 130.4L16.1 128.1L23 126.4L26.4 123.5L34.5 120.1L41.4 116L49.4 111.4L57.4 108L59.2 107.4L62.9 101.1L62 91.9L60.3 80.4L60.3 68.9L60.9 62.6L64.9 58.6L68.9 50.5L74.9 39.1L74.1 23L72.9 11.5L70.3 9.2L72.4 4.6Z"/><clipPath id="cleaf"><path d="M74.7 2.1L76.4 3.4L79.3 6.9L83.9 14.9L90.7 23L97.6 27.6L106.8 35L116 37L120.6 39.6L126 44.2L132.9 52.8L143.2 62.6L153.6 66L157 64.9L169.6 52.8L175.4 50L183.4 47.1L193.8 43.1L197.8 39.6L207 39.3L206.4 42.5L204.1 51.7L202.4 57.4L202.4 66.6L204.1 75.8L205.3 86.1L208.7 94.2L209.6 98.8L208.5 108L206.4 114.9L205.3 120.6L204.1 124.7L207.6 129.8L212.1 135.6L217.9 141.9L224.8 147.1L230 149.9L229.4 152.2L224.8 156.2L217.9 159.7L213.3 163.1L206.4 166.6L197.2 169.5L186.9 171.7L178.8 172.3L169.6 171.7L160.5 170.6L154.1 170L139.8 180.4L132.9 187.3L126 193L120.6 194.7L110.3 198.7L101.1 201L90.2 201L88.4 195.3L87.3 186.1L85.6 178.6L78.1 176.3L66.6 174L58.6 170.6L51.7 165.4L49.4 160.3L39.1 151.6L29.9 142.5L23 139L16.1 134.4L14 130.4L16.1 128.1L23 126.4L26.4 123.5L34.5 120.1L41.4 116L49.4 111.4L57.4 108L59.2 107.4L62.9 101.1L62 91.9L60.3 80.4L60.3 68.9L60.9 62.6L64.9 58.6L68.9 50.5L74.9 39.1L74.1 23L72.9 11.5L70.3 9.2L72.4 4.6Z"/></clipPath><mask id="mleaf" maskUnits="userSpaceOnUse" x="0" y="0" width="252" height="216"><use href="#leafns" fill="#fff"/><use href="#leafns" fill="none" stroke="url(#pmh_0)" stroke-width="4"/><use href="#leafns" fill="none" stroke="url(#pmh_1)" stroke-width="4"/></mask><clipPath id="cimg"><rect x="0" y="0" width="252" height="216"/></clipPath><pattern id="tbp" patternUnits="userSpaceOnUse" width="6" height="4" x="1" y="985"><rect width="6" height="4" fill="#fdfdfd"/><path d="M0 0h1v1h-1zM2 0h1v1h-1zM4 0h1v1h-1zM2 2h1v1h-1zM5 2h1v1h-1z" fill="#a4a4a4"/></pattern></defs><rect x="0" y="0" width="1097" height="29" fill="#ffffff"/><g transform="translate(15.05,12.95)"><circle r="7.6" fill="#fff" stroke="#454550" stroke-width="1.1"/><path d="M-3.8-6L5.4 5.2" stroke="#303038" stroke-width="1.2"/><rect x="-2.6" y="-6" width="1.5" height="3.8" fill="#f0e020"/><rect x="-6" y="-1.8" width="4.8" height="2.8" fill="#e8d820"/><rect x="1.3" y="-4.9" width="1.7" height="2.7" fill="#f0e020"/><path d="M3 2.8L5.2 5" stroke="#e8d820" stroke-width="1.5"/><circle cx="-0.1" cy="-0.5" r="1.3" fill="#303038"/><rect x="-0.5" y="1.2" width="1.1" height="3.6" fill="#808890"/><circle cx="-0.5" cy="3.4" r="0.8" fill="#20e060"/></g><text x="28.3" y="18" font-size="12" textLength="40.3" lengthAdjust="spacingAndGlyphs" fill="#000">Figure 1</text><rect x="980" y="13" width="10" height="1" fill="#000"/><rect x="1025.5" y="8.5" width="9" height="9" fill="none" stroke="#000" stroke-width="1"/><path d="M1071.5 8.5L1080.5 17.5M1080.5 8.5L1071.5 17.5" stroke="#000" stroke-width="1.1"/><rect x="0" y="29" width="1097" height="955" fill="#bfbfbf"/><text x="548.5" y="63" font-size="20.4" font-weight="bold" text-anchor="middle" textLength="630" lengthAdjust="spacingAndGlyphs" fill="#000">Triangle binarization algorithm applying a Gaussian filter</text><text x="330.1" y="134.7" font-size="17" text-anchor="middle" textLength="142.5" lengthAdjust="spacingAndGlyphs" fill="#000">image with noise</text><g transform="translate(205,144)" clip-path="url(#cimg)"><rect width="252" height="216" fill="#ffffff"/><rect width="252" height="216" fill="url(#p1b_0)"/><rect width="252" height="216" fill="url(#p1b_1)"/><rect width="252" height="216" fill="url(#p1b_2)"/><rect width="252" height="216" fill="url(#p1b_3)"/><rect width="252" height="216" fill="url(#p1b_4)"/><g mask="url(#mleaf)"><rect width="252" height="216" fill="#0a0a0a"/><rect width="252" height="216" fill="url(#p1l_0)"/><rect width="252" height="216" fill="url(#p1l_1)"/><rect width="252" height="216" fill="url(#p1l_2)"/><rect width="252" height="216" fill="url(#p1l_3)"/><rect width="252" height="216" fill="url(#p1l_4)"/></g><path d="M150.5 171L156 189L161 202L164.5 211" fill="none" stroke="#203028" stroke-width="1.4"/></g><text x="795.3" y="134.7" font-size="17" text-anchor="middle" textLength="165.5" lengthAdjust="spacingAndGlyphs" fill="#000">gray img with noise</text><g transform="translate(670,144)" clip-path="url(#cimg)"><rect width="252" height="216" fill="#ffffff"/><rect width="252" height="216" fill="url(#p2b_0)"/><rect width="252" height="216" fill="url(#p2b_1)"/><rect width="252" height="216" fill="url(#p2b_2)"/><rect width="252" height="216" fill="url(#p2b_3)"/><g mask="url(#mleaf)"><rect width="252" height="216" fill="#141418"/><rect width="252" height="216" fill="url(#p2l_0)"/><rect width="252" height="216" fill="url(#p2l_1)"/><rect width="252" height="216" fill="url(#p2l_2)"/><rect width="252" height="216" fill="url(#p2l_3)"/></g><path d="M150.5 171L156 189L161 202L164.5 211" fill="none" stroke="#303038" stroke-width="1.4"/></g><text x="795.1" y="395" font-size="17" text-anchor="middle" textLength="463.6" lengthAdjust="spacingAndGlyphs" fill="#000">Triangle binarization (before applying a Gaussian filter)</text><g transform="translate(670,403)" clip-path="url(#cimg)"><rect width="252" height="216" fill="#080808"/><rect width="252" height="216" fill="url(#p3b_0)"/><rect width="252" height="216" fill="url(#p3b_1)"/><rect width="252" height="216" fill="url(#p3b_2)"/><use href="#leafns" fill="url(#p3h_0)" stroke="url(#p3h_0)" stroke-width="12" stroke-linejoin="round"/><use href="#leafns" fill="url(#p3h_1)" stroke="url(#p3h_1)" stroke-width="12" stroke-linejoin="round"/><use href="#leafns" fill="#080808" stroke="#080808" stroke-width="2" stroke-linejoin="round" shape-rendering="crispEdges"/><rect x="83" y="27" width="1" height="1" fill="#fff"/><rect x="80" y="46" width="1" height="1" fill="#fff"/><rect x="83" y="76" width="1" height="1" fill="#fff"/><rect x="70" y="91" width="1" height="1" fill="#fff"/><rect x="93" y="92" width="1" height="1" fill="#fff"/><rect x="93" y="100" width="1" height="1" fill="#fff"/><rect x="97" y="138" width="1" height="1" fill="#fff"/><rect x="89" y="144" width="1" height="1" fill="#fff"/><rect x="125" y="159" width="1" height="1" fill="#fff"/><rect x="95" y="176" width="1" height="1" fill="#fff"/><rect x="163" y="69" width="1" height="1" fill="#fff"/><rect x="192" y="62" width="1" height="1" fill="#fff"/></g><text x="795.2" y="654.1" font-size="17" text-anchor="middle" textLength="449.6" lengthAdjust="spacingAndGlyphs" fill="#000">Triangle binarization (after applying a Gaussian filter)</text><g transform="translate(670,663)" clip-path="url(#cimg)"><rect width="252" height="216" fill="#fdfdfd"/><rect x="139" y="20" width="1" height="1" fill="#080808"/><rect x="164" y="22" width="1" height="1" fill="#080808"/><rect x="206" y="3" width="1" height="1" fill="#080808"/><rect x="221" y="35" width="1" height="1" fill="#080808"/><rect x="78" y="193" width="1" height="1" fill="#080808"/><rect x="251" y="125" width="1" height="1" fill="#080808"/><rect x="229" y="206" width="1" height="1" fill="#080808"/><rect x="182" y="215" width="1" height="1" fill="#080808"/><use href="#leaf" fill="#080808" shape-rendering="crispEdges"/></g><rect x="137.5" y="403.5" width="387.0" height="216.0" fill="#fdfdfd"/><clipPath id="ca403"><rect x="137.5" y="403.5" width="387.0" height="216.0"/></clipPath><g clip-path="url(#ca403)"><polyline points="137.50,586.87 138.26,608.98 139.01,608.91 140.52,608.71 142.04,608.90 143.55,609.11 145.06,608.84 146.57,609.01 148.08,608.47 149.60,607.82 151.11,608.58 152.62,608.57 154.13,608.00 155.64,607.99 157.16,608.03 158.67,608.43 160.18,607.95 161.69,607.56 163.20,608.41 164.72,607.94 166.23,608.52 167.74,608.18 169.25,608.36 170.76,607.56 172.28,607.96 173.79,607.19 175.30,607.18 176.81,607.26 178.32,608.25 179.84,607.28 181.35,609.00 182.86,608.90 184.37,609.61 185.88,609.10 187.40,609.29 188.91,609.19 190.42,608.31 191.93,609.12 193.44,608.74 194.96,608.29 196.47,608.92 197.98,608.68 199.49,608.55 201.00,608.53 202.52,609.08 204.03,608.46 205.54,607.85 207.05,609.13 208.56,608.01 210.08,608.32 211.59,608.63 213.10,607.40 214.61,607.93 216.12,608.78 217.64,608.18 219.15,607.92 220.66,608.23 222.17,607.81 223.68,608.11 225.20,607.75 226.71,607.37 228.22,608.29 229.73,607.86 231.24,608.13 232.76,607.83 234.27,608.39 235.78,608.09 237.29,607.88 238.80,607.35 240.32,607.21 241.83,608.30 243.34,608.02 244.85,607.34 246.36,608.50 247.88,607.78 249.39,607.58 250.90,606.94 252.41,606.66 253.92,607.07 255.44,607.03 256.95,606.93 258.46,606.07 259.97,606.90 261.48,606.80 263.00,606.45 264.51,606.61 266.02,606.59 267.53,606.95 269.04,606.40 270.56,606.55 272.07,605.77 273.58,605.95 275.09,606.20 276.60,605.84 278.12,606.24 279.63,605.56 281.14,605.98 282.65,605.67 284.16,606.46 285.68,605.67 287.19,606.54 288.70,606.64 290.21,605.81 291.72,606.03 293.24,605.49 294.75,604.50 296.26,604.83 297.77,604.72 299.28,604.32 300.80,604.17 302.31,604.45 303.82,604.44 305.33,604.00 306.84,604.06 308.36,604.74 309.87,604.29 311.38,604.21 312.89,604.68 314.40,604.07 315.92,604.55 317.43,603.70 318.94,604.03 320.45,604.05 321.96,604.34 323.48,604.10 324.99,604.93 326.50,604.51 328.01,603.81 329.52,604.92 331.04,603.55 332.55,604.70 334.06,603.54 335.57,604.25 337.08,603.49 338.60,603.76 340.11,604.49 341.62,603.21 343.13,603.10 344.64,603.76 346.16,603.83 347.67,603.75 349.18,604.10 350.69,603.14 352.20,603.86 353.72,603.61 355.23,603.93 356.74,603.83 358.25,604.10 359.76,602.93 361.28,603.55 362.18,603.96 362.79,582.85 363.24,547.67 363.85,547.67 364.30,582.85 364.90,601.44 367.32,601.47 368.84,601.86 370.35,602.14 371.86,601.94 373.37,602.01 374.88,601.71 376.40,601.84 377.91,601.77 379.42,602.22 380.93,601.92 382.44,600.77 383.96,601.78 385.47,601.92 386.98,601.25 388.49,600.73 390.00,601.98 391.52,601.38 393.03,601.54 394.54,602.01 396.05,600.84 397.56,601.14 399.08,601.06 400.59,601.40 402.10,600.81 403.61,601.22 405.12,598.49 406.64,598.93 408.15,598.98 409.66,599.33 411.17,600.21 412.68,599.89 414.20,600.08 415.71,600.31 417.22,600.39 418.73,599.92 420.24,600.38 421.76,600.36 423.27,600.33 424.78,599.85 426.29,600.12 427.80,600.30 429.32,600.77 430.83,601.19 432.34,600.18 433.85,600.21 435.36,600.76 436.88,600.49 438.39,600.43 439.90,600.45 441.41,600.46 442.92,601.12 444.44,600.28 445.95,601.57 447.46,600.66 448.97,600.87 450.48,600.75 452.00,600.34 453.51,600.56 455.02,601.79 456.53,602.08 458.04,600.99 459.56,601.87 461.07,601.46 462.58,601.12 464.09,602.29 465.60,602.54 467.12,601.52 468.63,601.66 470.14,601.83 471.65,601.75 473.16,602.20 474.68,602.54 476.19,601.98 477.70,597.36 479.21,597.83 480.72,597.03 482.24,597.45 483.75,597.41 485.26,598.20 486.77,598.22 488.28,598.54 489.80,598.66 491.31,598.34 492.82,598.95 494.33,598.60 495.84,598.78 497.36,598.18 498.87,599.89 500.38,599.03 501.89,599.64 503.40,599.77 504.92,600.59 506.43,600.31 507.94,599.93 509.45,600.47 510.96,600.57 512.48,600.90 513.99,600.42 515.50,601.12 517.01,602.27 518.52,600.94 520.04,601.44 521.55,601.95 523.06,411.50" fill="none" stroke="#d21ed2" stroke-width="2" stroke-linejoin="round"/><line x1="518.00" y1="619.5" x2="518.00" y2="403.5" stroke="#d21ed2" stroke-width="2" stroke-dasharray="7.71 3.33"/></g><rect x="137.5" y="403.5" width="387.0" height="216.0" fill="none" stroke="#000" stroke-width="1"/><line x1="132.5" y1="613.50" x2="137.5" y2="613.50" stroke="#000" stroke-width="1"/><text x="128.3" y="618.20" font-size="14" text-anchor="end" textLength="8.8" lengthAdjust="spacingAndGlyphs" fill="#000">0</text><line x1="132.5" y1="563.25" x2="137.5" y2="563.25" stroke="#000" stroke-width="1"/><text x="127.0" y="567.95" font-size="14" text-anchor="end" textLength="44.1" lengthAdjust="spacingAndGlyphs" fill="#000">10000</text><line x1="132.5" y1="513.00" x2="137.5" y2="513.00" stroke="#000" stroke-width="1"/><text x="127.0" y="517.70" font-size="14" text-anchor="end" textLength="44.1" lengthAdjust="spacingAndGlyphs" fill="#000">20000</text><line x1="132.5" y1="462.75" x2="137.5" y2="462.75" stroke="#000" stroke-width="1"/><text x="127.0" y="467.45" font-size="14" text-anchor="end" textLength="44.1" lengthAdjust="spacingAndGlyphs" fill="#000">30000</text><line x1="132.5" y1="412.50" x2="137.5" y2="412.50" stroke="#000" stroke-width="1"/><text x="127.0" y="417.20" font-size="14" text-anchor="end" textLength="44.1" lengthAdjust="spacingAndGlyphs" fill="#000">40000</text><line x1="137.50" y1="619.5" x2="137.50" y2="624.5" stroke="#000" stroke-width="1"/><text x="137.50" y="640.2" font-size="14" text-anchor="middle" textLength="8.8" lengthAdjust="spacingAndGlyphs" fill="#000">0</text><line x1="212.50" y1="619.5" x2="212.50" y2="624.5" stroke="#000" stroke-width="1"/><text x="212.50" y="640.2" font-size="14" text-anchor="middle" textLength="17.7" lengthAdjust="spacingAndGlyphs" fill="#000">50</text><line x1="288.50" y1="619.5" x2="288.50" y2="624.5" stroke="#000" stroke-width="1"/><text x="288.50" y="640.2" font-size="14" text-anchor="middle" textLength="26.5" lengthAdjust="spacingAndGlyphs" fill="#000">100</text><line x1="363.50" y1="619.5" x2="363.50" y2="624.5" stroke="#000" stroke-width="1"/><text x="363.50" y="640.2" font-size="14" text-anchor="middle" textLength="26.5" lengthAdjust="spacingAndGlyphs" fill="#000">150</text><line x1="439.50" y1="619.5" x2="439.50" y2="624.5" stroke="#000" stroke-width="1"/><text x="439.50" y="640.2" font-size="14" text-anchor="middle" textLength="26.5" lengthAdjust="spacingAndGlyphs" fill="#000">200</text><line x1="515.50" y1="619.5" x2="515.50" y2="624.5" stroke="#000" stroke-width="1"/><text x="515.50" y="640.2" font-size="14" text-anchor="middle" textLength="26.5" lengthAdjust="spacingAndGlyphs" fill="#000">250</text><text x="330" y="659.5" font-size="14" text-anchor="middle" textLength="28.2" lengthAdjust="spacingAndGlyphs" fill="#000">bins</text><text transform="translate(73.3,513.1) rotate(-90)" x="0" y="0" font-size="14.6" text-anchor="middle" textLength="117.6" lengthAdjust="spacingAndGlyphs" fill="#000">number of pixels</text><rect x="137.5" y="663.5" width="387.0" height="216.0" fill="#fdfdfd"/><clipPath id="ca663"><rect x="137.5" y="663.5" width="387.0" height="216.0"/></clipPath><g clip-path="url(#ca663)"><polyline points="137.50,869.00 228.22,869.00 240.01,868.50 248.18,867.60 253.77,866.90 258.16,863.30 261.94,857.80 265.57,855.11 268.29,850.50 271.01,844.10 274.64,842.31 279.17,835.53 281.90,834.50 283.86,835.91 285.07,833.42 289.15,838.22 292.93,839.11 297.47,838.22 299.28,836.42 302.01,838.22 307.45,835.21 311.08,836.81 312.89,840.01 318.34,845.90 321.96,851.40 325.74,858.70 331.19,864.33 334.82,865.29 339.96,866.38 351.60,866.60 371.86,866.31 394.84,865.99 406.79,864.90 410.42,861.96 412.23,858.38 415.41,845.51 417.67,823.82 419.64,793.61 421.91,756.81 424.18,713.61 426.14,681.10 427.35,673.80 428.41,672.01 429.47,673.80 430.53,681.10 432.64,713.61 434.91,756.81 437.03,800.01 439.14,832.52 441.41,854.09 442.92,861.96 444.59,865.99 447.76,868.10 455.02,868.81 524.57,868.81" fill="none" stroke="#d21ed2" stroke-width="2" stroke-linejoin="round"/><line x1="407.00" y1="879.5" x2="407.00" y2="663.5" stroke="#d21ed2" stroke-width="2" stroke-dasharray="7.71 3.33"/></g><rect x="137.5" y="663.5" width="387.0" height="216.0" fill="none" stroke="#000" stroke-width="1"/><line x1="132.5" y1="869.50" x2="137.5" y2="869.50" stroke="#000" stroke-width="1"/><text x="128.3" y="875.20" font-size="14" text-anchor="end" textLength="8.8" lengthAdjust="spacingAndGlyphs" fill="#000">0</text><line x1="132.5" y1="837.50" x2="137.5" y2="837.50" stroke="#000" stroke-width="1"/><text x="127.0" y="843.20" font-size="14" text-anchor="end" textLength="35.3" lengthAdjust="spacingAndGlyphs" fill="#000">5000</text><line x1="132.5" y1="805.50" x2="137.5" y2="805.50" stroke="#000" stroke-width="1"/><text x="127.0" y="811.20" font-size="14" text-anchor="end" textLength="44.1" lengthAdjust="spacingAndGlyphs" fill="#000">10000</text><line x1="132.5" y1="773.50" x2="137.5" y2="773.50" stroke="#000" stroke-width="1"/><text x="127.0" y="779.20" font-size="14" text-anchor="end" textLength="44.1" lengthAdjust="spacingAndGlyphs" fill="#000">15000</text><line x1="132.5" y1="741.50" x2="137.5" y2="741.50" stroke="#000" stroke-width="1"/><text x="127.0" y="747.20" font-size="14" text-anchor="end" textLength="44.1" lengthAdjust="spacingAndGlyphs" fill="#000">20000</text><line x1="132.5" y1="709.50" x2="137.5" y2="709.50" stroke="#000" stroke-width="1"/><text x="127.0" y="715.20" font-size="14" text-anchor="end" textLength="44.1" lengthAdjust="spacingAndGlyphs" fill="#000">25000</text><line x1="132.5" y1="677.50" x2="137.5" y2="677.50" stroke="#000" stroke-width="1"/><text x="127.0" y="683.20" font-size="14" text-anchor="end" textLength="44.1" lengthAdjust="spacingAndGlyphs" fill="#000">30000</text><line x1="137.50" y1="879.5" x2="137.50" y2="884.5" stroke="#000" stroke-width="1"/><text x="137.50" y="900.2" font-size="14" text-anchor="middle" textLength="8.8" lengthAdjust="spacingAndGlyphs" fill="#000">0</text><line x1="212.50" y1="879.5" x2="212.50" y2="884.5" stroke="#000" stroke-width="1"/><text x="212.50" y="900.2" font-size="14" text-anchor="middle" textLength="17.7" lengthAdjust="spacingAndGlyphs" fill="#000">50</text><line x1="288.50" y1="879.5" x2="288.50" y2="884.5" stroke="#000" stroke-width="1"/><text x="288.50" y="900.2" font-size="14" text-anchor="middle" textLength="26.5" lengthAdjust="spacingAndGlyphs" fill="#000">100</text><line x1="363.50" y1="879.5" x2="363.50" y2="884.5" stroke="#000" stroke-width="1"/><text x="363.50" y="900.2" font-size="14" text-anchor="middle" textLength="26.5" lengthAdjust="spacingAndGlyphs" fill="#000">150</text><line x1="439.50" y1="879.5" x2="439.50" y2="884.5" stroke="#000" stroke-width="1"/><text x="439.50" y="900.2" font-size="14" text-anchor="middle" textLength="26.5" lengthAdjust="spacingAndGlyphs" fill="#000">200</text><line x1="515.50" y1="879.5" x2="515.50" y2="884.5" stroke="#000" stroke-width="1"/><text x="515.50" y="900.2" font-size="14" text-anchor="middle" textLength="26.5" lengthAdjust="spacingAndGlyphs" fill="#000">250</text><text x="330" y="918.5" font-size="14" text-anchor="middle" textLength="28.2" lengthAdjust="spacingAndGlyphs" fill="#000">bins</text><text transform="translate(73.3,773.1) rotate(-90)" x="0" y="0" font-size="14.6" text-anchor="middle" textLength="117.6" lengthAdjust="spacingAndGlyphs" fill="#000">number of pixels</text><rect x="0" y="984" width="1097" height="34" fill="url(#tbp)"/><rect x="0" y="984" width="1097" height="1" fill="#fdfdfd"/><rect x="0" y="1016" width="233" height="2" fill="#fdfdfd"/><rect x="0" y="984" width="1" height="34" fill="#fdfdfd"/><rect x="1" y="986" width="29" height="29" fill="#fdfdfd"/><path d="M3 987.5H29M2.5 988V1014" fill="none" stroke="#a8a8a8" stroke-width="1" stroke-dasharray="1 1"/><rect x="29" y="987" width="1" height="27" fill="#98a0b4"/><rect x="2" y="1014" width="28" height="1" fill="#7c8498"/><rect x="30" y="986" width="1" height="30" fill="#403840"/><rect x="1" y="1015" width="30" height="1" fill="#403840"/><g transform="translate(16,1001)"><path d="M-8.8 2.2L0-4.4L8.8 2.2" fill="none" stroke="#000" stroke-width="2.6" stroke-linecap="round" stroke-linejoin="round"/><rect x="4.4" y="-6" width="2.9" height="5" fill="#000"/><path d="M-7.1 3.8L0-1.9L7.3 3.9V10.2H1.5V5.1H-1.4V10.2H-7.1Z" fill="#000"/></g><rect x="31" y="986" width="29" height="29" fill="#fdfdfd"/><path d="M33 987.5H59M32.5 988V1014" fill="none" stroke="#a8a8a8" stroke-width="1" stroke-dasharray="1 1"/><rect x="59" y="987" width="1" height="27" fill="#98a0b4"/><rect x="32" y="1014" width="28" height="1" fill="#7c8498"/><rect x="60" y="986" width="1" height="30" fill="#403840"/><rect x="31" y="1015" width="30" height="1" fill="#403840"/><g transform="translate(46,1001)"><path d="M7.4 0.5H-6.2M0.6-7.3L-6.4 0.5L0.6 8.3" fill="none" stroke="#000" stroke-width="4.6" stroke-linecap="round" stroke-linejoin="round"/></g><rect x="61" y="986" width="29" height="29" fill="#fdfdfd"/><path d="M63 987.5H89M62.5 988V1014" fill="none" stroke="#a8a8a8" stroke-width="1" stroke-dasharray="1 1"/><rect x="89" y="987" width="1" height="27" fill="#98a0b4"/><rect x="62" y="1014" width="28" height="1" fill="#7c8498"/><rect x="90" y="986" width="1" height="30" fill="#403840"/><rect x="61" y="1015" width="30" height="1" fill="#403840"/><g transform="translate(76,1001)"><path d="M-7.5 0.5H6.6M-0.4-7.3L6.8 0.5L-0.4 8.3" fill="none" stroke="#000" stroke-width="4.6" stroke-linecap="round" stroke-linejoin="round"/></g><rect x="102" y="986" width="29" height="29" fill="#fdfdfd"/><path d="M104 987.5H130M103.5 988V1014" fill="none" stroke="#a8a8a8" stroke-width="1" stroke-dasharray="1 1"/><rect x="130" y="987" width="1" height="27" fill="#98a0b4"/><rect x="103" y="1014" width="28" height="1" fill="#7c8498"/><rect x="131" y="986" width="1" height="30" fill="#403840"/><rect x="102" y="1015" width="30" height="1" fill="#403840"/><g transform="translate(117,1001)"><path d="M-8 0.3H8M0-8V8.6" stroke="#000" stroke-width="3"/><path d="M-11.4 0.3L-6.4-3.8V4.4ZM11 0.3L6-3.8V4.4ZM0-11.2L-4-6.2H4ZM0 11.4L-4 6.4H4Z" fill="#000" stroke="#000" stroke-width="1" stroke-linejoin="round"/></g><rect x="132" y="986" width="29" height="29" fill="#fdfdfd"/><path d="M134 987.5H160M133.5 988V1014" fill="none" stroke="#a8a8a8" stroke-width="1" stroke-dasharray="1 1"/><rect x="160" y="987" width="1" height="27" fill="#98a0b4"/><rect x="133" y="1014" width="28" height="1" fill="#7c8498"/><rect x="161" y="986" width="1" height="30" fill="#403840"/><rect x="132" y="1015" width="30" height="1" fill="#403840"/><g transform="translate(147,1001)"><circle cx="-1.5" cy="-1.1" r="7.4" fill="none" stroke="#000" stroke-width="3"/><path d="M4.4 5.4L8.8 9.4" stroke="#000" stroke-width="3.6" stroke-linecap="round"/></g><rect x="162" y="986" width="29" height="29" fill="#fdfdfd"/><path d="M164 987.5H190M163.5 988V1014" fill="none" stroke="#a8a8a8" stroke-width="1" stroke-dasharray="1 1"/><rect x="190" y="987" width="1" height="27" fill="#98a0b4"/><rect x="163" y="1014" width="28" height="1" fill="#7c8498"/><rect x="191" y="986" width="1" height="30" fill="#403840"/><rect x="162" y="1015" width="30" height="1" fill="#403840"/><g transform="translate(177,1001)"><path d="M-9.7-5.3H9.7M-9.7 1.3H9.7M-9.7 7.5H9.7" stroke="#000" stroke-width="1.8"/><rect x="-6.6" y="-7.6" width="4.5" height="4.6" rx="1.2" fill="#000"/><rect x="1.8" y="-1" width="4.5" height="4.6" rx="1.2" fill="#000"/><rect x="-4.8" y="5.2" width="4.5" height="4.6" rx="1.2" fill="#000"/></g><rect x="203" y="986" width="29" height="29" fill="#fdfdfd"/><path d="M205 987.5H231M204.5 988V1014" fill="none" stroke="#a8a8a8" stroke-width="1" stroke-dasharray="1 1"/><rect x="231" y="987" width="1" height="27" fill="#98a0b4"/><rect x="204" y="1014" width="28" height="1" fill="#7c8498"/><rect x="232" y="986" width="1" height="30" fill="#403840"/><rect x="203" y="1015" width="30" height="1" fill="#403840"/><g transform="translate(218,1001)"><path d="M-8.2-7.5H3.9L8.3-3.1V8.7H-8.2Z" fill="#fdfdfd" stroke="#000" stroke-width="2.6" stroke-linejoin="round"/><rect x="-6.4" y="-8" width="9.4" height="6.2" fill="#000"/><rect x="-1.2" y="-7.2" width="2.8" height="3.8" fill="#fdfdfd"/><rect x="-5.6" y="2.8" width="11.8" height="6.8" fill="#fdfdfd" stroke="#000" stroke-width="1.8"/></g><rect x="96" y="987" width="1" height="27" fill="#707a90"/><rect x="197" y="987" width="1" height="27" fill="#707a90"/></svg></body></html>
